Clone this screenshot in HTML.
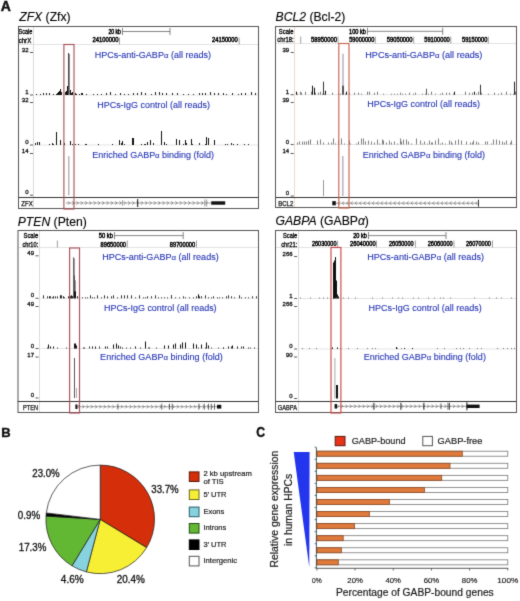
<!DOCTYPE html>
<html><head><meta charset="utf-8"><style>
html,body{margin:0;padding:0;background:#fff;width:520px;height:601px;overflow:hidden;}
svg{display:block;font-family:"Liberation Sans", sans-serif;}
</style></head><body>
<svg width="520" height="601" viewBox="0 0 520 601">
<defs><filter id="soft" x="0" y="0" width="520" height="601" filterUnits="userSpaceOnUse" color-interpolation-filters="sRGB"><feConvolveMatrix order="3" kernelMatrix="0.0144 0.0912 0.0144 0.0912 0.5776 0.0912 0.0144 0.0912 0.0144" edgeMode="duplicate"/></filter></defs>
<g filter="url(#soft)">
<rect x="0" y="0" width="520" height="601" fill="#ffffff"/>
<text x="0.8" y="11.2" font-size="14.0" fill="#111" text-anchor="start" font-weight="bold" font-style="normal" stroke="#111" stroke-width="0.45">A</text>
<rect x="18" y="26" width="241" height="183" fill="#fff" stroke="none" stroke-width="1"/>
<line x1="18.5" y1="44.5" x2="259" y2="44.5" stroke="#e2e2e2" stroke-width="1"/>
<line x1="33.5" y1="26" x2="33.5" y2="209" stroke="#dadada" stroke-width="1"/>
<text x="32.4" y="33.8" font-size="6.8" fill="#000" text-anchor="end" font-weight="normal" font-style="normal" textLength="13.8" lengthAdjust="spacingAndGlyphs" stroke="#000" stroke-width="0.3">Scale</text>
<text x="31.2" y="42.6" font-size="6.8" fill="#000" text-anchor="end" font-weight="normal" font-style="normal" textLength="12.5" lengthAdjust="spacingAndGlyphs" stroke="#000" stroke-width="0.3">chrX</text>
<text x="121.0" y="33.8" font-size="6.4" fill="#000" text-anchor="end" font-weight="normal" font-style="normal" textLength="12.6" lengthAdjust="spacingAndGlyphs" stroke="#000" stroke-width="0.45">20 kb</text>
<line x1="122.5" y1="31.5" x2="170" y2="31.5" stroke="#666" stroke-width="0.8"/>
<line x1="122.5" y1="28.0" x2="122.5" y2="35.0" stroke="#666" stroke-width="0.8"/>
<line x1="170" y1="28.0" x2="170" y2="35.0" stroke="#666" stroke-width="0.8"/>
<text x="118.5" y="42.4" font-size="6.4" fill="#000" text-anchor="end" font-weight="normal" font-style="normal" textLength="26.0" lengthAdjust="spacingAndGlyphs" stroke="#000" stroke-width="0.45">24100000</text>
<line x1="119.5" y1="37.5" x2="119.5" y2="44.5" stroke="#888" stroke-width="0.8"/>
<text x="237.8" y="42.4" font-size="6.4" fill="#000" text-anchor="end" font-weight="normal" font-style="normal" textLength="25.8" lengthAdjust="spacingAndGlyphs" stroke="#000" stroke-width="0.45">24150000</text>
<line x1="239.2" y1="37.5" x2="239.2" y2="44.5" stroke="#888" stroke-width="0.8"/>
<text x="28.5" y="52" font-size="6.0" fill="#111" text-anchor="end" font-weight="normal" font-style="normal" stroke="#111" stroke-width="0.3">32</text>
<line x1="30.0" y1="52.5" x2="33.0" y2="52.5" stroke="#444" stroke-width="0.9"/>
<text x="28.5" y="94.0" font-size="6.0" fill="#111" text-anchor="end" font-weight="normal" font-style="normal" stroke="#111" stroke-width="0.3">1</text>
<line x1="30.0" y1="95.0" x2="33.0" y2="95.0" stroke="#444" stroke-width="0.9"/>
<line x1="34.5" y1="95.0" x2="258" y2="95.0" stroke="#e4e4e4" stroke-width="1"/>
<text x="94.7" y="57.6" font-size="8.3" fill="#2434b4" text-anchor="start" font-weight="normal" font-style="normal" textLength="116.4" lengthAdjust="spacingAndGlyphs" stroke="#2434b4" stroke-width="0.1">HPCs-anti-GABP<tspan font-size="7.2">&#945;</tspan> (all reads)</text>
<rect x="56" y="94.0" width="1" height="1" fill="#111" stroke="none" stroke-width="1"/>
<rect x="57" y="93.0" width="1" height="2" fill="#111" stroke="none" stroke-width="1"/>
<rect x="58" y="92.0" width="1" height="3" fill="#111" stroke="none" stroke-width="1"/>
<rect x="59" y="91.0" width="1" height="4" fill="#111" stroke="none" stroke-width="1"/>
<rect x="60" y="89.0" width="1" height="6" fill="#111" stroke="none" stroke-width="1"/>
<rect x="61" y="92.0" width="1" height="3" fill="#111" stroke="none" stroke-width="1"/>
<rect x="66" y="91.0" width="1" height="4" fill="#111" stroke="none" stroke-width="1"/>
<rect x="67" y="86.0" width="1" height="9" fill="#111" stroke="none" stroke-width="1"/>
<rect x="68" y="83.0" width="2" height="12" fill="#111" stroke="none" stroke-width="1"/>
<rect x="68" y="53.0" width="1" height="42" fill="#4a4a4a" stroke="none" stroke-width="1"/>
<rect x="69" y="54.0" width="1" height="41" fill="#8a8a8a" stroke="none" stroke-width="1"/>
<rect x="70" y="90.0" width="1" height="5" fill="#111" stroke="none" stroke-width="1"/>
<rect x="71" y="93.0" width="1" height="2" fill="#111" stroke="none" stroke-width="1"/>
<rect x="72" y="92.0" width="1" height="3" fill="#111" stroke="none" stroke-width="1"/>
<rect x="76" y="94.0" width="1" height="1" fill="#111" stroke="none" stroke-width="1"/>
<rect x="79" y="94.0" width="1" height="1" fill="#111" stroke="none" stroke-width="1"/>
<rect x="82" y="93.0" width="1" height="2" fill="#111" stroke="none" stroke-width="1"/>
<rect x="36" y="94.0" width="1" height="1" fill="#222" stroke="none" stroke-width="1"/>
<rect x="40" y="94.0" width="1" height="1" fill="#222" stroke="none" stroke-width="1"/>
<rect x="43" y="93.0" width="1" height="2" fill="#222" stroke="none" stroke-width="1"/>
<rect x="46" y="93.0" width="1" height="2" fill="#222" stroke="none" stroke-width="1"/>
<rect x="49" y="93.0" width="1" height="2" fill="#222" stroke="none" stroke-width="1"/>
<rect x="53" y="94.0" width="1" height="1" fill="#222" stroke="none" stroke-width="1"/>
<rect x="57" y="94.0" width="1" height="1" fill="#222" stroke="none" stroke-width="1"/>
<rect x="61" y="93.0" width="1" height="2" fill="#222" stroke="none" stroke-width="1"/>
<rect x="65" y="92.0" width="1" height="3" fill="#222" stroke="none" stroke-width="1"/>
<rect x="70" y="94.0" width="1" height="1" fill="#222" stroke="none" stroke-width="1"/>
<rect x="75" y="93.0" width="1" height="2" fill="#222" stroke="none" stroke-width="1"/>
<rect x="81" y="93.0" width="1" height="2" fill="#222" stroke="none" stroke-width="1"/>
<rect x="86" y="94.0" width="1" height="1" fill="#222" stroke="none" stroke-width="1"/>
<rect x="93" y="94.0" width="1" height="1" fill="#222" stroke="none" stroke-width="1"/>
<rect x="97" y="94.0" width="1" height="1" fill="#222" stroke="none" stroke-width="1"/>
<rect x="101" y="94.0" width="1" height="1" fill="#222" stroke="none" stroke-width="1"/>
<rect x="106" y="93.0" width="1" height="2" fill="#222" stroke="none" stroke-width="1"/>
<rect x="110" y="92.0" width="1" height="3" fill="#222" stroke="none" stroke-width="1"/>
<rect x="115" y="94.0" width="1" height="1" fill="#222" stroke="none" stroke-width="1"/>
<rect x="120" y="93.0" width="1" height="2" fill="#222" stroke="none" stroke-width="1"/>
<rect x="124" y="94.0" width="1" height="1" fill="#222" stroke="none" stroke-width="1"/>
<rect x="128" y="94.0" width="1" height="1" fill="#222" stroke="none" stroke-width="1"/>
<rect x="133" y="93.0" width="1" height="2" fill="#222" stroke="none" stroke-width="1"/>
<rect x="137" y="93.0" width="1" height="2" fill="#222" stroke="none" stroke-width="1"/>
<rect x="141" y="92.0" width="1" height="3" fill="#222" stroke="none" stroke-width="1"/>
<rect x="145" y="93.0" width="1" height="2" fill="#222" stroke="none" stroke-width="1"/>
<rect x="151" y="94.0" width="1" height="1" fill="#222" stroke="none" stroke-width="1"/>
<rect x="155" y="92.0" width="1" height="3" fill="#222" stroke="none" stroke-width="1"/>
<rect x="159" y="92.0" width="1" height="3" fill="#222" stroke="none" stroke-width="1"/>
<rect x="162" y="93.0" width="1" height="2" fill="#222" stroke="none" stroke-width="1"/>
<rect x="166" y="93.0" width="1" height="2" fill="#222" stroke="none" stroke-width="1"/>
<rect x="172" y="93.0" width="1" height="2" fill="#222" stroke="none" stroke-width="1"/>
<rect x="177" y="93.0" width="1" height="2" fill="#222" stroke="none" stroke-width="1"/>
<rect x="183" y="94.0" width="1" height="1" fill="#222" stroke="none" stroke-width="1"/>
<rect x="188" y="94.0" width="1" height="1" fill="#222" stroke="none" stroke-width="1"/>
<rect x="193" y="94.0" width="1" height="1" fill="#222" stroke="none" stroke-width="1"/>
<rect x="199" y="93.0" width="1" height="2" fill="#222" stroke="none" stroke-width="1"/>
<rect x="202" y="93.0" width="1" height="2" fill="#222" stroke="none" stroke-width="1"/>
<rect x="205" y="93.0" width="1" height="2" fill="#222" stroke="none" stroke-width="1"/>
<rect x="210" y="92.0" width="1" height="3" fill="#222" stroke="none" stroke-width="1"/>
<rect x="214" y="93.0" width="1" height="2" fill="#222" stroke="none" stroke-width="1"/>
<rect x="218" y="93.0" width="1" height="2" fill="#222" stroke="none" stroke-width="1"/>
<rect x="223" y="93.0" width="1" height="2" fill="#222" stroke="none" stroke-width="1"/>
<rect x="226" y="94.0" width="1" height="1" fill="#222" stroke="none" stroke-width="1"/>
<rect x="232" y="93.0" width="1" height="2" fill="#222" stroke="none" stroke-width="1"/>
<rect x="238" y="94.0" width="1" height="1" fill="#222" stroke="none" stroke-width="1"/>
<rect x="241" y="93.0" width="1" height="2" fill="#222" stroke="none" stroke-width="1"/>
<rect x="245" y="93.0" width="1" height="2" fill="#222" stroke="none" stroke-width="1"/>
<rect x="251" y="92.0" width="1" height="3" fill="#222" stroke="none" stroke-width="1"/>
<rect x="255" y="93.0" width="1" height="2" fill="#222" stroke="none" stroke-width="1"/>
<text x="28.5" y="102" font-size="6.0" fill="#111" text-anchor="end" font-weight="normal" font-style="normal" stroke="#111" stroke-width="0.3">32</text>
<line x1="30.0" y1="102.5" x2="33.0" y2="102.5" stroke="#444" stroke-width="0.9"/>
<text x="28.5" y="144.0" font-size="6.0" fill="#111" text-anchor="end" font-weight="normal" font-style="normal" stroke="#111" stroke-width="0.3">0</text>
<line x1="30.0" y1="145.0" x2="33.0" y2="145.0" stroke="#444" stroke-width="0.9"/>
<line x1="34.5" y1="145.0" x2="258" y2="145.0" stroke="#e4e4e4" stroke-width="1"/>
<text x="97.2" y="107.6" font-size="8.3" fill="#2434b4" text-anchor="start" font-weight="normal" font-style="normal" textLength="112.7" lengthAdjust="spacingAndGlyphs" stroke="#2434b4" stroke-width="0.1">HPCs-IgG control (all reads)</text>
<rect x="37" y="142.0" width="1" height="3" fill="#111" stroke="none" stroke-width="1"/>
<rect x="39" y="142.0" width="1" height="3" fill="#111" stroke="none" stroke-width="1"/>
<rect x="49" y="144.0" width="1" height="1" fill="#111" stroke="none" stroke-width="1"/>
<rect x="56" y="132.0" width="1" height="13" fill="#111" stroke="none" stroke-width="1"/>
<rect x="60" y="140.0" width="1" height="5" fill="#111" stroke="none" stroke-width="1"/>
<rect x="64" y="143.0" width="1" height="2" fill="#111" stroke="none" stroke-width="1"/>
<rect x="70" y="141.0" width="1" height="4" fill="#111" stroke="none" stroke-width="1"/>
<rect x="78" y="144.0" width="1" height="1" fill="#111" stroke="none" stroke-width="1"/>
<rect x="85" y="144.0" width="1" height="1" fill="#111" stroke="none" stroke-width="1"/>
<rect x="98" y="144.0" width="1" height="1" fill="#111" stroke="none" stroke-width="1"/>
<rect x="112" y="144.0" width="1" height="1" fill="#111" stroke="none" stroke-width="1"/>
<rect x="119" y="140.0" width="1" height="5" fill="#111" stroke="none" stroke-width="1"/>
<rect x="122" y="141.0" width="1" height="4" fill="#111" stroke="none" stroke-width="1"/>
<rect x="132" y="138.0" width="2" height="7" fill="#111" stroke="none" stroke-width="1"/>
<rect x="141" y="144.0" width="1" height="1" fill="#111" stroke="none" stroke-width="1"/>
<rect x="145" y="144.0" width="1" height="1" fill="#111" stroke="none" stroke-width="1"/>
<rect x="147" y="142.0" width="1" height="3" fill="#111" stroke="none" stroke-width="1"/>
<rect x="150" y="140.0" width="1" height="5" fill="#111" stroke="none" stroke-width="1"/>
<rect x="161" y="131.0" width="1" height="14" fill="#111" stroke="none" stroke-width="1"/>
<rect x="164" y="142.0" width="1" height="3" fill="#111" stroke="none" stroke-width="1"/>
<rect x="166" y="144.0" width="1" height="1" fill="#111" stroke="none" stroke-width="1"/>
<rect x="176" y="139.0" width="1" height="6" fill="#111" stroke="none" stroke-width="1"/>
<rect x="179" y="140.0" width="1" height="5" fill="#111" stroke="none" stroke-width="1"/>
<rect x="185" y="140.0" width="1" height="5" fill="#111" stroke="none" stroke-width="1"/>
<rect x="191" y="139.0" width="1" height="6" fill="#111" stroke="none" stroke-width="1"/>
<rect x="206" y="137.0" width="1" height="8" fill="#111" stroke="none" stroke-width="1"/>
<rect x="208" y="138.0" width="1" height="7" fill="#111" stroke="none" stroke-width="1"/>
<rect x="214" y="140.0" width="1" height="5" fill="#111" stroke="none" stroke-width="1"/>
<rect x="225" y="144.0" width="1" height="1" fill="#111" stroke="none" stroke-width="1"/>
<rect x="233" y="144.0" width="1" height="1" fill="#111" stroke="none" stroke-width="1"/>
<rect x="237" y="144.0" width="1" height="1" fill="#111" stroke="none" stroke-width="1"/>
<rect x="244" y="144.0" width="1" height="1" fill="#111" stroke="none" stroke-width="1"/>
<rect x="183" y="144.0" width="1" height="1" fill="#222" stroke="none" stroke-width="1"/>
<rect x="244" y="144.0" width="1" height="1" fill="#222" stroke="none" stroke-width="1"/>
<rect x="72" y="144.0" width="1" height="1" fill="#222" stroke="none" stroke-width="1"/>
<rect x="144" y="144.0" width="1" height="1" fill="#222" stroke="none" stroke-width="1"/>
<rect x="205" y="144.0" width="1" height="1" fill="#222" stroke="none" stroke-width="1"/>
<rect x="199" y="143.0" width="1" height="2" fill="#222" stroke="none" stroke-width="1"/>
<rect x="121" y="143.0" width="1" height="2" fill="#222" stroke="none" stroke-width="1"/>
<rect x="52" y="143.0" width="1" height="2" fill="#222" stroke="none" stroke-width="1"/>
<rect x="124" y="144.0" width="1" height="1" fill="#222" stroke="none" stroke-width="1"/>
<rect x="231" y="143.0" width="1" height="2" fill="#222" stroke="none" stroke-width="1"/>
<rect x="227" y="144.0" width="1" height="1" fill="#222" stroke="none" stroke-width="1"/>
<rect x="192" y="144.0" width="1" height="1" fill="#222" stroke="none" stroke-width="1"/>
<rect x="186" y="143.0" width="1" height="2" fill="#222" stroke="none" stroke-width="1"/>
<rect x="248" y="144.0" width="1" height="1" fill="#222" stroke="none" stroke-width="1"/>
<rect x="53" y="144.0" width="1" height="1" fill="#222" stroke="none" stroke-width="1"/>
<rect x="86" y="144.0" width="1" height="1" fill="#222" stroke="none" stroke-width="1"/>
<rect x="37" y="143.0" width="1" height="2" fill="#222" stroke="none" stroke-width="1"/>
<rect x="75" y="144.0" width="1" height="1" fill="#222" stroke="none" stroke-width="1"/>
<rect x="35" y="143.0" width="1" height="2" fill="#222" stroke="none" stroke-width="1"/>
<rect x="153" y="143.0" width="1" height="2" fill="#222" stroke="none" stroke-width="1"/>
<text x="28.5" y="153" font-size="6.0" fill="#111" text-anchor="end" font-weight="normal" font-style="normal" stroke="#111" stroke-width="0.3">14</text>
<line x1="30.0" y1="153.5" x2="33.0" y2="153.5" stroke="#444" stroke-width="0.9"/>
<text x="28.5" y="194.2" font-size="6.0" fill="#111" text-anchor="end" font-weight="normal" font-style="normal" stroke="#111" stroke-width="0.3">0</text>
<line x1="30.0" y1="195.2" x2="33.0" y2="195.2" stroke="#444" stroke-width="0.9"/>
<text x="92.2" y="157.6" font-size="8.3" fill="#2434b4" text-anchor="start" font-weight="normal" font-style="normal" textLength="121.9" lengthAdjust="spacingAndGlyphs" stroke="#2434b4" stroke-width="0.1">Enriched GABP<tspan font-size="7.2">&#945;</tspan> binding (fold)</text>
<rect x="68" y="156.2" width="1" height="39" fill="#b4b4b4" stroke="none" stroke-width="1"/>
<rect x="69" y="156.2" width="1" height="39" fill="#dadada" stroke="none" stroke-width="1"/>
<line x1="18" y1="197.5" x2="259" y2="197.5" stroke="#333" stroke-width="1"/>
<text x="21.2" y="206" font-size="6.6" fill="#111" text-anchor="start" font-weight="normal" font-style="normal" textLength="11.6" lengthAdjust="spacingAndGlyphs" stroke="#111" stroke-width="0.25">ZFX</text>
<line x1="66" y1="203" x2="211" y2="203" stroke="#8a8a8a" stroke-width="0.8"/>
<path d="M68.0 201.3 L69.7 203 L68.0 204.7" fill="none" stroke="#707070" stroke-width="0.8"/>
<path d="M72.3 201.3 L74.0 203 L72.3 204.7" fill="none" stroke="#707070" stroke-width="0.8"/>
<path d="M76.6 201.3 L78.3 203 L76.6 204.7" fill="none" stroke="#707070" stroke-width="0.8"/>
<path d="M80.9 201.3 L82.6 203 L80.9 204.7" fill="none" stroke="#707070" stroke-width="0.8"/>
<path d="M85.2 201.3 L86.9 203 L85.2 204.7" fill="none" stroke="#707070" stroke-width="0.8"/>
<path d="M89.5 201.3 L91.2 203 L89.5 204.7" fill="none" stroke="#707070" stroke-width="0.8"/>
<path d="M93.8 201.3 L95.5 203 L93.8 204.7" fill="none" stroke="#707070" stroke-width="0.8"/>
<path d="M98.1 201.3 L99.8 203 L98.1 204.7" fill="none" stroke="#707070" stroke-width="0.8"/>
<path d="M102.4 201.3 L104.1 203 L102.4 204.7" fill="none" stroke="#707070" stroke-width="0.8"/>
<path d="M106.7 201.3 L108.4 203 L106.7 204.7" fill="none" stroke="#707070" stroke-width="0.8"/>
<path d="M111.0 201.3 L112.7 203 L111.0 204.7" fill="none" stroke="#707070" stroke-width="0.8"/>
<path d="M115.3 201.3 L117.0 203 L115.3 204.7" fill="none" stroke="#707070" stroke-width="0.8"/>
<path d="M119.6 201.3 L121.3 203 L119.6 204.7" fill="none" stroke="#707070" stroke-width="0.8"/>
<path d="M123.9 201.3 L125.6 203 L123.9 204.7" fill="none" stroke="#707070" stroke-width="0.8"/>
<path d="M128.2 201.3 L129.9 203 L128.2 204.7" fill="none" stroke="#707070" stroke-width="0.8"/>
<path d="M132.5 201.3 L134.2 203 L132.5 204.7" fill="none" stroke="#707070" stroke-width="0.8"/>
<path d="M136.8 201.3 L138.5 203 L136.8 204.7" fill="none" stroke="#707070" stroke-width="0.8"/>
<path d="M141.1 201.3 L142.8 203 L141.1 204.7" fill="none" stroke="#707070" stroke-width="0.8"/>
<path d="M145.4 201.3 L147.1 203 L145.4 204.7" fill="none" stroke="#707070" stroke-width="0.8"/>
<path d="M149.7 201.3 L151.4 203 L149.7 204.7" fill="none" stroke="#707070" stroke-width="0.8"/>
<path d="M154.0 201.3 L155.7 203 L154.0 204.7" fill="none" stroke="#707070" stroke-width="0.8"/>
<path d="M158.3 201.3 L160.0 203 L158.3 204.7" fill="none" stroke="#707070" stroke-width="0.8"/>
<path d="M162.6 201.3 L164.3 203 L162.6 204.7" fill="none" stroke="#707070" stroke-width="0.8"/>
<path d="M166.9 201.3 L168.6 203 L166.9 204.7" fill="none" stroke="#707070" stroke-width="0.8"/>
<path d="M171.2 201.3 L172.9 203 L171.2 204.7" fill="none" stroke="#707070" stroke-width="0.8"/>
<path d="M175.5 201.3 L177.2 203 L175.5 204.7" fill="none" stroke="#707070" stroke-width="0.8"/>
<path d="M179.8 201.3 L181.5 203 L179.8 204.7" fill="none" stroke="#707070" stroke-width="0.8"/>
<path d="M184.1 201.3 L185.8 203 L184.1 204.7" fill="none" stroke="#707070" stroke-width="0.8"/>
<path d="M188.4 201.3 L190.1 203 L188.4 204.7" fill="none" stroke="#707070" stroke-width="0.8"/>
<path d="M192.7 201.3 L194.4 203 L192.7 204.7" fill="none" stroke="#707070" stroke-width="0.8"/>
<path d="M197.0 201.3 L198.7 203 L197.0 204.7" fill="none" stroke="#707070" stroke-width="0.8"/>
<path d="M201.3 201.3 L203.0 203 L201.3 204.7" fill="none" stroke="#707070" stroke-width="0.8"/>
<path d="M205.6 201.3 L207.3 203 L205.6 204.7" fill="none" stroke="#707070" stroke-width="0.8"/>
<rect x="122" y="200.0" width="0.8" height="6" fill="#999" stroke="none" stroke-width="1"/>
<rect x="137.2" y="199.0" width="1" height="8" fill="#111" stroke="none" stroke-width="1"/>
<rect x="204.4" y="199.5" width="0.8" height="7" fill="#888" stroke="none" stroke-width="1"/>
<rect x="206.4" y="199.5" width="0.8" height="7" fill="#888" stroke="none" stroke-width="1"/>
<rect x="211.2" y="201.3" width="14" height="3.4" fill="#111" stroke="none" stroke-width="1"/>
<rect x="18.5" y="26.5" width="240" height="182" fill="none" stroke="#555" stroke-width="1"/>
<rect x="63.9" y="44.5" width="10.100000000000001" height="164.5" fill="none" stroke="#a8525a" stroke-width="1.15"/>
<text x="19.2" y="21" font-size="12.2" fill="#000" stroke="#000" stroke-width="0.12"><tspan font-style="italic">ZFX</tspan> (Zfx)</text>
<rect x="275" y="26" width="242" height="182" fill="#fff" stroke="none" stroke-width="1"/>
<line x1="275.5" y1="43.5" x2="517" y2="43.5" stroke="#e2e2e2" stroke-width="1"/>
<line x1="294.5" y1="26" x2="294.5" y2="208" stroke="#f2d6c8" stroke-width="1"/>
<text x="293.5" y="33.8" font-size="6.8" fill="#000" text-anchor="end" font-weight="normal" font-style="normal" textLength="14.7" lengthAdjust="spacingAndGlyphs" stroke="#000" stroke-width="0.3">Scale</text>
<text x="293.5" y="42.4" font-size="6.8" fill="#000" text-anchor="end" font-weight="normal" font-style="normal" textLength="16.2" lengthAdjust="spacingAndGlyphs" stroke="#000" stroke-width="0.3">chr18:</text>
<text x="366.0" y="33.6" font-size="6.4" fill="#000" text-anchor="end" font-weight="normal" font-style="normal" textLength="16.9" lengthAdjust="spacingAndGlyphs" stroke="#000" stroke-width="0.45">100 kb</text>
<line x1="367.5" y1="31.3" x2="442.7" y2="31.3" stroke="#666" stroke-width="0.8"/>
<line x1="367.5" y1="27.8" x2="367.5" y2="34.8" stroke="#666" stroke-width="0.8"/>
<line x1="442.7" y1="27.8" x2="442.7" y2="34.8" stroke="#666" stroke-width="0.8"/>
<text x="337" y="42.2" font-size="6.4" fill="#000" text-anchor="end" font-weight="normal" font-style="normal" textLength="26" lengthAdjust="spacingAndGlyphs" stroke="#000" stroke-width="0.45">58950000</text>
<line x1="338" y1="36.5" x2="338" y2="43.5" stroke="#888" stroke-width="0.8"/>
<text x="374.4" y="42.2" font-size="6.4" fill="#000" text-anchor="end" font-weight="normal" font-style="normal" textLength="25.2" lengthAdjust="spacingAndGlyphs" stroke="#000" stroke-width="0.45">59000000</text>
<line x1="375.3" y1="36.5" x2="375.3" y2="43.5" stroke="#888" stroke-width="0.8"/>
<text x="412.6" y="42.2" font-size="6.4" fill="#000" text-anchor="end" font-weight="normal" font-style="normal" textLength="25.9" lengthAdjust="spacingAndGlyphs" stroke="#000" stroke-width="0.45">59050000</text>
<line x1="413.7" y1="36.5" x2="413.7" y2="43.5" stroke="#888" stroke-width="0.8"/>
<text x="449.8" y="42.2" font-size="6.4" fill="#000" text-anchor="end" font-weight="normal" font-style="normal" textLength="25.6" lengthAdjust="spacingAndGlyphs" stroke="#000" stroke-width="0.45">59100000</text>
<line x1="450.8" y1="36.5" x2="450.8" y2="43.5" stroke="#888" stroke-width="0.8"/>
<text x="487.3" y="42.2" font-size="6.4" fill="#000" text-anchor="end" font-weight="normal" font-style="normal" textLength="25.3" lengthAdjust="spacingAndGlyphs" stroke="#000" stroke-width="0.45">59150000</text>
<line x1="488.3" y1="36.5" x2="488.3" y2="43.5" stroke="#888" stroke-width="0.8"/>
<line x1="300.7" y1="36.5" x2="300.7" y2="43.5" stroke="#888" stroke-width="0.8"/>
<text x="289.2" y="52" font-size="6.0" fill="#111" text-anchor="end" font-weight="normal" font-style="normal" stroke="#111" stroke-width="0.3">39</text>
<line x1="290.7" y1="52.5" x2="293.7" y2="52.5" stroke="#444" stroke-width="0.9"/>
<text x="289.2" y="93.7" font-size="6.0" fill="#111" text-anchor="end" font-weight="normal" font-style="normal" stroke="#111" stroke-width="0.3">1</text>
<line x1="290.7" y1="94.7" x2="293.7" y2="94.7" stroke="#444" stroke-width="0.9"/>
<line x1="295.5" y1="94.7" x2="516" y2="94.7" stroke="#e4e4e4" stroke-width="1"/>
<text x="365.3" y="57.5" font-size="8.3" fill="#2434b4" text-anchor="start" font-weight="normal" font-style="normal" textLength="117.1" lengthAdjust="spacingAndGlyphs" stroke="#2434b4" stroke-width="0.1">HPCs-anti-GABP<tspan font-size="7.2">&#945;</tspan> (all reads)</text>
<rect x="296" y="91.7" width="1" height="3" fill="#111" stroke="none" stroke-width="1"/>
<rect x="300" y="91.7" width="1" height="3" fill="#777" stroke="none" stroke-width="1"/>
<rect x="312" y="85.7" width="1" height="9" fill="#111" stroke="none" stroke-width="1"/>
<rect x="314" y="87.7" width="1" height="7" fill="#111" stroke="none" stroke-width="1"/>
<rect x="323" y="81.7" width="1" height="13" fill="#333" stroke="none" stroke-width="1"/>
<rect x="325" y="90.7" width="1" height="4" fill="#111" stroke="none" stroke-width="1"/>
<rect x="342" y="53.7" width="2" height="41" fill="#c4c4d4" stroke="none" stroke-width="1"/>
<rect x="342" y="85.7" width="2" height="9" fill="#555" stroke="none" stroke-width="1"/>
<rect x="346" y="91.7" width="1" height="3" fill="#111" stroke="none" stroke-width="1"/>
<rect x="426" y="88.7" width="1" height="6" fill="#555" stroke="none" stroke-width="1"/>
<rect x="454" y="91.7" width="1" height="3" fill="#111" stroke="none" stroke-width="1"/>
<rect x="474" y="91.7" width="1" height="3" fill="#111" stroke="none" stroke-width="1"/>
<rect x="480" y="84.7" width="1" height="10" fill="#333" stroke="none" stroke-width="1"/>
<rect x="514" y="81.7" width="1" height="13" fill="#222" stroke="none" stroke-width="1"/>
<rect x="297" y="93.7" width="1" height="1" fill="#777" stroke="none" stroke-width="1"/>
<rect x="301" y="92.7" width="1" height="2" fill="#777" stroke="none" stroke-width="1"/>
<rect x="305" y="91.7" width="1" height="3" fill="#777" stroke="none" stroke-width="1"/>
<rect x="311" y="91.7" width="1" height="3" fill="#777" stroke="none" stroke-width="1"/>
<rect x="315" y="92.7" width="1" height="2" fill="#777" stroke="none" stroke-width="1"/>
<rect x="318" y="92.7" width="1" height="2" fill="#777" stroke="none" stroke-width="1"/>
<rect x="320" y="91.7" width="1" height="3" fill="#777" stroke="none" stroke-width="1"/>
<rect x="322" y="93.7" width="1" height="1" fill="#777" stroke="none" stroke-width="1"/>
<rect x="324" y="93.7" width="1" height="1" fill="#777" stroke="none" stroke-width="1"/>
<rect x="332" y="92.7" width="1" height="2" fill="#777" stroke="none" stroke-width="1"/>
<rect x="338" y="92.7" width="1" height="2" fill="#777" stroke="none" stroke-width="1"/>
<rect x="340" y="93.7" width="1" height="1" fill="#777" stroke="none" stroke-width="1"/>
<rect x="345" y="93.7" width="1" height="1" fill="#777" stroke="none" stroke-width="1"/>
<rect x="349" y="92.7" width="1" height="2" fill="#777" stroke="none" stroke-width="1"/>
<rect x="354" y="92.7" width="1" height="2" fill="#777" stroke="none" stroke-width="1"/>
<rect x="358" y="92.7" width="1" height="2" fill="#777" stroke="none" stroke-width="1"/>
<rect x="361" y="93.7" width="1" height="1" fill="#777" stroke="none" stroke-width="1"/>
<rect x="367" y="91.7" width="1" height="3" fill="#777" stroke="none" stroke-width="1"/>
<rect x="369" y="91.7" width="1" height="3" fill="#777" stroke="none" stroke-width="1"/>
<rect x="374" y="92.7" width="1" height="2" fill="#777" stroke="none" stroke-width="1"/>
<rect x="377" y="91.7" width="1" height="3" fill="#777" stroke="none" stroke-width="1"/>
<rect x="383" y="93.7" width="1" height="1" fill="#777" stroke="none" stroke-width="1"/>
<rect x="391" y="93.7" width="1" height="1" fill="#777" stroke="none" stroke-width="1"/>
<rect x="394" y="93.7" width="1" height="1" fill="#777" stroke="none" stroke-width="1"/>
<rect x="397" y="93.7" width="1" height="1" fill="#777" stroke="none" stroke-width="1"/>
<rect x="400" y="92.7" width="1" height="2" fill="#777" stroke="none" stroke-width="1"/>
<rect x="402" y="93.7" width="1" height="1" fill="#777" stroke="none" stroke-width="1"/>
<rect x="405" y="93.7" width="1" height="1" fill="#777" stroke="none" stroke-width="1"/>
<rect x="409" y="92.7" width="1" height="2" fill="#777" stroke="none" stroke-width="1"/>
<rect x="413" y="93.7" width="1" height="1" fill="#777" stroke="none" stroke-width="1"/>
<rect x="415" y="92.7" width="1" height="2" fill="#777" stroke="none" stroke-width="1"/>
<rect x="422" y="93.7" width="1" height="1" fill="#777" stroke="none" stroke-width="1"/>
<rect x="425" y="93.7" width="1" height="1" fill="#777" stroke="none" stroke-width="1"/>
<rect x="428" y="93.7" width="1" height="1" fill="#777" stroke="none" stroke-width="1"/>
<rect x="431" y="91.7" width="1" height="3" fill="#777" stroke="none" stroke-width="1"/>
<rect x="435" y="93.7" width="1" height="1" fill="#777" stroke="none" stroke-width="1"/>
<rect x="440" y="93.7" width="1" height="1" fill="#777" stroke="none" stroke-width="1"/>
<rect x="442" y="92.7" width="1" height="2" fill="#777" stroke="none" stroke-width="1"/>
<rect x="446" y="92.7" width="1" height="2" fill="#777" stroke="none" stroke-width="1"/>
<rect x="449" y="92.7" width="1" height="2" fill="#777" stroke="none" stroke-width="1"/>
<rect x="453" y="93.7" width="1" height="1" fill="#777" stroke="none" stroke-width="1"/>
<rect x="465" y="91.7" width="1" height="3" fill="#777" stroke="none" stroke-width="1"/>
<rect x="469" y="92.7" width="1" height="2" fill="#777" stroke="none" stroke-width="1"/>
<rect x="472" y="92.7" width="1" height="2" fill="#777" stroke="none" stroke-width="1"/>
<rect x="476" y="93.7" width="1" height="1" fill="#777" stroke="none" stroke-width="1"/>
<rect x="478" y="91.7" width="1" height="3" fill="#777" stroke="none" stroke-width="1"/>
<rect x="481" y="92.7" width="1" height="2" fill="#777" stroke="none" stroke-width="1"/>
<rect x="488" y="93.7" width="1" height="1" fill="#777" stroke="none" stroke-width="1"/>
<rect x="494" y="92.7" width="1" height="2" fill="#777" stroke="none" stroke-width="1"/>
<rect x="498" y="93.7" width="1" height="1" fill="#777" stroke="none" stroke-width="1"/>
<rect x="501" y="92.7" width="1" height="2" fill="#777" stroke="none" stroke-width="1"/>
<rect x="506" y="91.7" width="1" height="3" fill="#777" stroke="none" stroke-width="1"/>
<rect x="510" y="93.7" width="1" height="1" fill="#777" stroke="none" stroke-width="1"/>
<rect x="513" y="93.7" width="1" height="1" fill="#777" stroke="none" stroke-width="1"/>
<rect x="515" y="91.7" width="1" height="3" fill="#777" stroke="none" stroke-width="1"/>
<text x="289.2" y="102" font-size="6.0" fill="#111" text-anchor="end" font-weight="normal" font-style="normal" stroke="#111" stroke-width="0.3">39</text>
<line x1="290.7" y1="102.5" x2="293.7" y2="102.5" stroke="#444" stroke-width="0.9"/>
<text x="289.2" y="143.5" font-size="6.0" fill="#111" text-anchor="end" font-weight="normal" font-style="normal" stroke="#111" stroke-width="0.3">0</text>
<line x1="290.7" y1="144.5" x2="293.7" y2="144.5" stroke="#444" stroke-width="0.9"/>
<line x1="295.5" y1="144.5" x2="516" y2="144.5" stroke="#e4e4e4" stroke-width="1"/>
<text x="367.2" y="106.8" font-size="8.3" fill="#2434b4" text-anchor="start" font-weight="normal" font-style="normal" textLength="112.7" lengthAdjust="spacingAndGlyphs" stroke="#2434b4" stroke-width="0.1">HPCs-IgG control (all reads)</text>
<rect x="297" y="142.5" width="1" height="2" fill="#808080" stroke="none" stroke-width="1"/>
<rect x="299" y="141.5" width="1" height="3" fill="#808080" stroke="none" stroke-width="1"/>
<rect x="302" y="141.5" width="1" height="3" fill="#808080" stroke="none" stroke-width="1"/>
<rect x="304" y="141.5" width="1" height="3" fill="#808080" stroke="none" stroke-width="1"/>
<rect x="306" y="141.5" width="1" height="3" fill="#808080" stroke="none" stroke-width="1"/>
<rect x="308" y="140.5" width="1" height="4" fill="#808080" stroke="none" stroke-width="1"/>
<rect x="310" y="139.5" width="1" height="5" fill="#808080" stroke="none" stroke-width="1"/>
<rect x="317" y="140.5" width="1" height="4" fill="#808080" stroke="none" stroke-width="1"/>
<rect x="320" y="139.5" width="1" height="5" fill="#808080" stroke="none" stroke-width="1"/>
<rect x="323" y="142.5" width="1" height="2" fill="#808080" stroke="none" stroke-width="1"/>
<rect x="328" y="142.5" width="1" height="2" fill="#808080" stroke="none" stroke-width="1"/>
<rect x="331" y="142.5" width="1" height="2" fill="#808080" stroke="none" stroke-width="1"/>
<rect x="333" y="138.5" width="1" height="6" fill="#808080" stroke="none" stroke-width="1"/>
<rect x="335" y="143.5" width="1" height="1" fill="#808080" stroke="none" stroke-width="1"/>
<rect x="338" y="140.5" width="1" height="4" fill="#808080" stroke="none" stroke-width="1"/>
<rect x="341" y="138.5" width="1" height="6" fill="#808080" stroke="none" stroke-width="1"/>
<rect x="344" y="143.5" width="1" height="1" fill="#808080" stroke="none" stroke-width="1"/>
<rect x="349" y="140.5" width="1" height="4" fill="#808080" stroke="none" stroke-width="1"/>
<rect x="350" y="143.5" width="1" height="1" fill="#808080" stroke="none" stroke-width="1"/>
<rect x="356" y="143.5" width="1" height="1" fill="#808080" stroke="none" stroke-width="1"/>
<rect x="358" y="141.5" width="1" height="3" fill="#808080" stroke="none" stroke-width="1"/>
<rect x="361" y="138.5" width="1" height="6" fill="#808080" stroke="none" stroke-width="1"/>
<rect x="363" y="138.5" width="1" height="6" fill="#808080" stroke="none" stroke-width="1"/>
<rect x="365" y="141.5" width="1" height="3" fill="#808080" stroke="none" stroke-width="1"/>
<rect x="368" y="140.5" width="1" height="4" fill="#808080" stroke="none" stroke-width="1"/>
<rect x="371" y="141.5" width="1" height="3" fill="#808080" stroke="none" stroke-width="1"/>
<rect x="374" y="142.5" width="1" height="2" fill="#808080" stroke="none" stroke-width="1"/>
<rect x="377" y="139.5" width="1" height="5" fill="#808080" stroke="none" stroke-width="1"/>
<rect x="379" y="143.5" width="1" height="1" fill="#808080" stroke="none" stroke-width="1"/>
<rect x="382" y="139.5" width="1" height="5" fill="#808080" stroke="none" stroke-width="1"/>
<rect x="383" y="140.5" width="1" height="4" fill="#808080" stroke="none" stroke-width="1"/>
<rect x="386" y="142.5" width="1" height="2" fill="#808080" stroke="none" stroke-width="1"/>
<rect x="389" y="140.5" width="1" height="4" fill="#808080" stroke="none" stroke-width="1"/>
<rect x="391" y="142.5" width="1" height="2" fill="#808080" stroke="none" stroke-width="1"/>
<rect x="394" y="141.5" width="1" height="3" fill="#808080" stroke="none" stroke-width="1"/>
<rect x="397" y="143.5" width="1" height="1" fill="#808080" stroke="none" stroke-width="1"/>
<rect x="400" y="138.5" width="1" height="6" fill="#808080" stroke="none" stroke-width="1"/>
<rect x="401" y="141.5" width="1" height="3" fill="#808080" stroke="none" stroke-width="1"/>
<rect x="403" y="139.5" width="1" height="5" fill="#808080" stroke="none" stroke-width="1"/>
<rect x="406" y="139.5" width="1" height="5" fill="#808080" stroke="none" stroke-width="1"/>
<rect x="408" y="141.5" width="1" height="3" fill="#808080" stroke="none" stroke-width="1"/>
<rect x="411" y="143.5" width="1" height="1" fill="#808080" stroke="none" stroke-width="1"/>
<rect x="416" y="138.5" width="1" height="6" fill="#808080" stroke="none" stroke-width="1"/>
<rect x="420" y="140.5" width="1" height="4" fill="#808080" stroke="none" stroke-width="1"/>
<rect x="422" y="143.5" width="1" height="1" fill="#808080" stroke="none" stroke-width="1"/>
<rect x="424" y="141.5" width="1" height="3" fill="#808080" stroke="none" stroke-width="1"/>
<rect x="427" y="143.5" width="1" height="1" fill="#808080" stroke="none" stroke-width="1"/>
<rect x="429" y="140.5" width="1" height="4" fill="#808080" stroke="none" stroke-width="1"/>
<rect x="431" y="142.5" width="1" height="2" fill="#808080" stroke="none" stroke-width="1"/>
<rect x="432" y="142.5" width="1" height="2" fill="#808080" stroke="none" stroke-width="1"/>
<rect x="435" y="140.5" width="1" height="4" fill="#808080" stroke="none" stroke-width="1"/>
<rect x="438" y="138.5" width="1" height="6" fill="#808080" stroke="none" stroke-width="1"/>
<rect x="440" y="143.5" width="1" height="1" fill="#808080" stroke="none" stroke-width="1"/>
<rect x="442" y="142.5" width="1" height="2" fill="#808080" stroke="none" stroke-width="1"/>
<rect x="445" y="143.5" width="1" height="1" fill="#808080" stroke="none" stroke-width="1"/>
<rect x="449" y="140.5" width="1" height="4" fill="#808080" stroke="none" stroke-width="1"/>
<rect x="451" y="141.5" width="1" height="3" fill="#808080" stroke="none" stroke-width="1"/>
<rect x="452" y="143.5" width="1" height="1" fill="#808080" stroke="none" stroke-width="1"/>
<rect x="455" y="140.5" width="1" height="4" fill="#808080" stroke="none" stroke-width="1"/>
<rect x="458" y="139.5" width="1" height="5" fill="#808080" stroke="none" stroke-width="1"/>
<rect x="461" y="140.5" width="1" height="4" fill="#808080" stroke="none" stroke-width="1"/>
<rect x="466" y="141.5" width="1" height="3" fill="#808080" stroke="none" stroke-width="1"/>
<rect x="470" y="142.5" width="1" height="2" fill="#808080" stroke="none" stroke-width="1"/>
<rect x="472" y="142.5" width="1" height="2" fill="#808080" stroke="none" stroke-width="1"/>
<rect x="473" y="140.5" width="1" height="4" fill="#808080" stroke="none" stroke-width="1"/>
<rect x="476" y="141.5" width="1" height="3" fill="#808080" stroke="none" stroke-width="1"/>
<rect x="478" y="142.5" width="1" height="2" fill="#808080" stroke="none" stroke-width="1"/>
<rect x="485" y="141.5" width="1" height="3" fill="#808080" stroke="none" stroke-width="1"/>
<rect x="487" y="141.5" width="1" height="3" fill="#808080" stroke="none" stroke-width="1"/>
<rect x="491" y="143.5" width="1" height="1" fill="#808080" stroke="none" stroke-width="1"/>
<rect x="493" y="139.5" width="1" height="5" fill="#808080" stroke="none" stroke-width="1"/>
<rect x="496" y="139.5" width="1" height="5" fill="#808080" stroke="none" stroke-width="1"/>
<rect x="499" y="140.5" width="1" height="4" fill="#808080" stroke="none" stroke-width="1"/>
<rect x="502" y="141.5" width="1" height="3" fill="#808080" stroke="none" stroke-width="1"/>
<rect x="504" y="142.5" width="1" height="2" fill="#808080" stroke="none" stroke-width="1"/>
<rect x="506" y="140.5" width="1" height="4" fill="#808080" stroke="none" stroke-width="1"/>
<rect x="510" y="142.5" width="1" height="2" fill="#808080" stroke="none" stroke-width="1"/>
<rect x="511" y="140.5" width="1" height="4" fill="#808080" stroke="none" stroke-width="1"/>
<text x="289.2" y="153" font-size="6.0" fill="#111" text-anchor="end" font-weight="normal" font-style="normal" stroke="#111" stroke-width="0.3">14</text>
<line x1="290.7" y1="153.5" x2="293.7" y2="153.5" stroke="#444" stroke-width="0.9"/>
<text x="289.2" y="195.0" font-size="6.0" fill="#111" text-anchor="end" font-weight="normal" font-style="normal" stroke="#111" stroke-width="0.3">0</text>
<line x1="290.7" y1="196.0" x2="293.7" y2="196.0" stroke="#444" stroke-width="0.9"/>
<text x="362.7" y="157.5" font-size="8.3" fill="#2434b4" text-anchor="start" font-weight="normal" font-style="normal" textLength="122.4" lengthAdjust="spacingAndGlyphs" stroke="#2434b4" stroke-width="0.1">Enriched GABP<tspan font-size="7.2">&#945;</tspan> binding (fold)</text>
<rect x="342" y="156.0" width="2" height="40" fill="#d4d4e0" stroke="none" stroke-width="1"/>
<rect x="342" y="156.0" width="1" height="40" fill="#b8b8c8" stroke="none" stroke-width="1"/>
<rect x="323" y="180.0" width="1" height="16" fill="#999" stroke="none" stroke-width="1"/>
<line x1="275" y1="197.5" x2="517" y2="197.5" stroke="#333" stroke-width="1"/>
<text x="278.3" y="206" font-size="6.6" fill="#111" text-anchor="start" font-weight="normal" font-style="normal" textLength="15.0" lengthAdjust="spacingAndGlyphs" stroke="#111" stroke-width="0.25">BCL2</text>
<line x1="336" y1="203.2" x2="478.4" y2="203.2" stroke="#8a8a8a" stroke-width="0.8"/>
<path d="M339.7 201.5 L338.0 203.2 L339.7 204.89999999999998" fill="none" stroke="#707070" stroke-width="0.8"/>
<path d="M344.0 201.5 L342.3 203.2 L344.0 204.89999999999998" fill="none" stroke="#707070" stroke-width="0.8"/>
<path d="M348.3 201.5 L346.6 203.2 L348.3 204.89999999999998" fill="none" stroke="#707070" stroke-width="0.8"/>
<path d="M352.6 201.5 L350.9 203.2 L352.6 204.89999999999998" fill="none" stroke="#707070" stroke-width="0.8"/>
<path d="M356.9 201.5 L355.2 203.2 L356.9 204.89999999999998" fill="none" stroke="#707070" stroke-width="0.8"/>
<path d="M361.2 201.5 L359.5 203.2 L361.2 204.89999999999998" fill="none" stroke="#707070" stroke-width="0.8"/>
<path d="M365.5 201.5 L363.8 203.2 L365.5 204.89999999999998" fill="none" stroke="#707070" stroke-width="0.8"/>
<path d="M369.8 201.5 L368.1 203.2 L369.8 204.89999999999998" fill="none" stroke="#707070" stroke-width="0.8"/>
<path d="M374.1 201.5 L372.4 203.2 L374.1 204.89999999999998" fill="none" stroke="#707070" stroke-width="0.8"/>
<path d="M378.4 201.5 L376.7 203.2 L378.4 204.89999999999998" fill="none" stroke="#707070" stroke-width="0.8"/>
<path d="M382.7 201.5 L381.0 203.2 L382.7 204.89999999999998" fill="none" stroke="#707070" stroke-width="0.8"/>
<path d="M387.0 201.5 L385.3 203.2 L387.0 204.89999999999998" fill="none" stroke="#707070" stroke-width="0.8"/>
<path d="M391.3 201.5 L389.6 203.2 L391.3 204.89999999999998" fill="none" stroke="#707070" stroke-width="0.8"/>
<path d="M395.6 201.5 L393.9 203.2 L395.6 204.89999999999998" fill="none" stroke="#707070" stroke-width="0.8"/>
<path d="M399.9 201.5 L398.2 203.2 L399.9 204.89999999999998" fill="none" stroke="#707070" stroke-width="0.8"/>
<path d="M404.2 201.5 L402.5 203.2 L404.2 204.89999999999998" fill="none" stroke="#707070" stroke-width="0.8"/>
<path d="M408.5 201.5 L406.8 203.2 L408.5 204.89999999999998" fill="none" stroke="#707070" stroke-width="0.8"/>
<path d="M412.8 201.5 L411.1 203.2 L412.8 204.89999999999998" fill="none" stroke="#707070" stroke-width="0.8"/>
<path d="M417.1 201.5 L415.4 203.2 L417.1 204.89999999999998" fill="none" stroke="#707070" stroke-width="0.8"/>
<path d="M421.4 201.5 L419.7 203.2 L421.4 204.89999999999998" fill="none" stroke="#707070" stroke-width="0.8"/>
<path d="M425.7 201.5 L424.0 203.2 L425.7 204.89999999999998" fill="none" stroke="#707070" stroke-width="0.8"/>
<path d="M430.0 201.5 L428.3 203.2 L430.0 204.89999999999998" fill="none" stroke="#707070" stroke-width="0.8"/>
<path d="M434.3 201.5 L432.6 203.2 L434.3 204.89999999999998" fill="none" stroke="#707070" stroke-width="0.8"/>
<path d="M438.6 201.5 L436.9 203.2 L438.6 204.89999999999998" fill="none" stroke="#707070" stroke-width="0.8"/>
<path d="M442.9 201.5 L441.2 203.2 L442.9 204.89999999999998" fill="none" stroke="#707070" stroke-width="0.8"/>
<path d="M447.2 201.5 L445.5 203.2 L447.2 204.89999999999998" fill="none" stroke="#707070" stroke-width="0.8"/>
<path d="M451.5 201.5 L449.8 203.2 L451.5 204.89999999999998" fill="none" stroke="#707070" stroke-width="0.8"/>
<path d="M455.8 201.5 L454.1 203.2 L455.8 204.89999999999998" fill="none" stroke="#707070" stroke-width="0.8"/>
<path d="M460.1 201.5 L458.4 203.2 L460.1 204.89999999999998" fill="none" stroke="#707070" stroke-width="0.8"/>
<path d="M464.4 201.5 L462.7 203.2 L464.4 204.89999999999998" fill="none" stroke="#707070" stroke-width="0.8"/>
<path d="M468.7 201.5 L467.0 203.2 L468.7 204.89999999999998" fill="none" stroke="#707070" stroke-width="0.8"/>
<path d="M473.0 201.5 L471.3 203.2 L473.0 204.89999999999998" fill="none" stroke="#707070" stroke-width="0.8"/>
<path d="M477.3 201.5 L475.6 203.2 L477.3 204.89999999999998" fill="none" stroke="#707070" stroke-width="0.8"/>
<rect x="332.3" y="201.1" width="3.5" height="4.2" fill="#111" stroke="none" stroke-width="1"/>
<rect x="478" y="199.7" width="0.9" height="7" fill="#222" stroke="none" stroke-width="1"/>
<rect x="275.5" y="26.5" width="241" height="181" fill="none" stroke="#555" stroke-width="1"/>
<rect x="338.8" y="43.5" width="10.199999999999989" height="164.5" fill="none" stroke="#c86450" stroke-width="1.15"/>
<text x="275.5" y="21" font-size="12.2" fill="#000" stroke="#000" stroke-width="0.12"><tspan font-style="italic">BCL2</tspan> (Bcl-2)</text>
<rect x="17.5" y="230" width="241.5" height="183" fill="#fff" stroke="none" stroke-width="1"/>
<line x1="18.0" y1="247.5" x2="259" y2="247.5" stroke="#e2e2e2" stroke-width="1"/>
<line x1="39.5" y1="230" x2="39.5" y2="413" stroke="#dadada" stroke-width="1"/>
<text x="38.2" y="237.8" font-size="6.8" fill="#000" text-anchor="end" font-weight="normal" font-style="normal" textLength="14.7" lengthAdjust="spacingAndGlyphs" stroke="#000" stroke-width="0.3">Scale</text>
<text x="38.2" y="247.3" font-size="6.8" fill="#000" text-anchor="end" font-weight="normal" font-style="normal" textLength="15.7" lengthAdjust="spacingAndGlyphs" stroke="#000" stroke-width="0.3">chr10:</text>
<text x="113.0" y="237.9" font-size="6.4" fill="#000" text-anchor="end" font-weight="normal" font-style="normal" textLength="14.2" lengthAdjust="spacingAndGlyphs" stroke="#000" stroke-width="0.45">50 kb</text>
<line x1="114.5" y1="235.6" x2="183.2" y2="235.6" stroke="#666" stroke-width="0.8"/>
<line x1="114.5" y1="232.1" x2="114.5" y2="239.1" stroke="#666" stroke-width="0.8"/>
<line x1="183.2" y1="232.1" x2="183.2" y2="239.1" stroke="#666" stroke-width="0.8"/>
<text x="126" y="246.8" font-size="6.4" fill="#000" text-anchor="end" font-weight="normal" font-style="normal" textLength="25.4" lengthAdjust="spacingAndGlyphs" stroke="#000" stroke-width="0.45">89650000</text>
<line x1="127.3" y1="240.5" x2="127.3" y2="247.5" stroke="#888" stroke-width="0.8"/>
<text x="195.2" y="246.8" font-size="6.4" fill="#000" text-anchor="end" font-weight="normal" font-style="normal" textLength="25.4" lengthAdjust="spacingAndGlyphs" stroke="#000" stroke-width="0.45">89700000</text>
<line x1="196.5" y1="240.5" x2="196.5" y2="247.5" stroke="#888" stroke-width="0.8"/>
<line x1="57.4" y1="240.5" x2="57.4" y2="247.5" stroke="#888" stroke-width="0.8"/>
<text x="34" y="255.3" font-size="6.0" fill="#111" text-anchor="end" font-weight="normal" font-style="normal" stroke="#111" stroke-width="0.3">49</text>
<line x1="35.5" y1="255.8" x2="38.5" y2="255.8" stroke="#444" stroke-width="0.9"/>
<text x="34" y="297.3" font-size="6.0" fill="#111" text-anchor="end" font-weight="normal" font-style="normal" stroke="#111" stroke-width="0.3">0</text>
<line x1="35.5" y1="298.3" x2="38.5" y2="298.3" stroke="#444" stroke-width="0.9"/>
<line x1="40.5" y1="298.3" x2="258" y2="298.3" stroke="#e4e4e4" stroke-width="1"/>
<text x="102.2" y="260.1" font-size="8.3" fill="#2434b4" text-anchor="start" font-weight="normal" font-style="normal" textLength="116.5" lengthAdjust="spacingAndGlyphs" stroke="#2434b4" stroke-width="0.1">HPCs-anti-GABP<tspan font-size="7.2">&#945;</tspan> (all reads)</text>
<rect x="70" y="296.3" width="1" height="2" fill="#111" stroke="none" stroke-width="1"/>
<rect x="71" y="295.3" width="1" height="3" fill="#111" stroke="none" stroke-width="1"/>
<rect x="72" y="296.3" width="1" height="2" fill="#111" stroke="none" stroke-width="1"/>
<rect x="73" y="257.3" width="1" height="41" fill="#666" stroke="none" stroke-width="1"/>
<rect x="74" y="258.3" width="1" height="40" fill="#999" stroke="none" stroke-width="1"/>
<rect x="74" y="275.3" width="1" height="23" fill="#555" stroke="none" stroke-width="1"/>
<rect x="75" y="280.3" width="1" height="18" fill="#999" stroke="none" stroke-width="1"/>
<rect x="74" y="291.3" width="2" height="7" fill="#111" stroke="none" stroke-width="1"/>
<rect x="77" y="296.3" width="1" height="2" fill="#111" stroke="none" stroke-width="1"/>
<rect x="171" y="295.3" width="1" height="3" fill="#111" stroke="none" stroke-width="1"/>
<rect x="198" y="294.3" width="1" height="4" fill="#111" stroke="none" stroke-width="1"/>
<rect x="49" y="296.3" width="1" height="2" fill="#111" stroke="none" stroke-width="1"/>
<rect x="53" y="296.3" width="1" height="2" fill="#111" stroke="none" stroke-width="1"/>
<rect x="60" y="295.3" width="1" height="3" fill="#111" stroke="none" stroke-width="1"/>
<rect x="63" y="296.3" width="1" height="2" fill="#111" stroke="none" stroke-width="1"/>
<rect x="43" y="295.3" width="1" height="3" fill="#333" stroke="none" stroke-width="1"/>
<rect x="47" y="296.3" width="1" height="2" fill="#333" stroke="none" stroke-width="1"/>
<rect x="50" y="296.3" width="1" height="2" fill="#333" stroke="none" stroke-width="1"/>
<rect x="52" y="297.3" width="1" height="1" fill="#333" stroke="none" stroke-width="1"/>
<rect x="55" y="296.3" width="1" height="2" fill="#333" stroke="none" stroke-width="1"/>
<rect x="57" y="296.3" width="1" height="2" fill="#333" stroke="none" stroke-width="1"/>
<rect x="61" y="295.3" width="1" height="3" fill="#333" stroke="none" stroke-width="1"/>
<rect x="64" y="297.3" width="1" height="1" fill="#333" stroke="none" stroke-width="1"/>
<rect x="68" y="296.3" width="1" height="2" fill="#333" stroke="none" stroke-width="1"/>
<rect x="71" y="297.3" width="1" height="1" fill="#333" stroke="none" stroke-width="1"/>
<rect x="79" y="295.3" width="1" height="3" fill="#333" stroke="none" stroke-width="1"/>
<rect x="82" y="297.3" width="1" height="1" fill="#333" stroke="none" stroke-width="1"/>
<rect x="85" y="297.3" width="1" height="1" fill="#333" stroke="none" stroke-width="1"/>
<rect x="87" y="297.3" width="1" height="1" fill="#333" stroke="none" stroke-width="1"/>
<rect x="90" y="295.3" width="1" height="3" fill="#333" stroke="none" stroke-width="1"/>
<rect x="92" y="297.3" width="1" height="1" fill="#333" stroke="none" stroke-width="1"/>
<rect x="94" y="297.3" width="1" height="1" fill="#333" stroke="none" stroke-width="1"/>
<rect x="97" y="295.3" width="1" height="3" fill="#333" stroke="none" stroke-width="1"/>
<rect x="101" y="297.3" width="1" height="1" fill="#333" stroke="none" stroke-width="1"/>
<rect x="104" y="295.3" width="1" height="3" fill="#333" stroke="none" stroke-width="1"/>
<rect x="107" y="296.3" width="1" height="2" fill="#333" stroke="none" stroke-width="1"/>
<rect x="111" y="296.3" width="1" height="2" fill="#333" stroke="none" stroke-width="1"/>
<rect x="113" y="295.3" width="1" height="3" fill="#333" stroke="none" stroke-width="1"/>
<rect x="117" y="297.3" width="1" height="1" fill="#333" stroke="none" stroke-width="1"/>
<rect x="121" y="295.3" width="1" height="3" fill="#333" stroke="none" stroke-width="1"/>
<rect x="124" y="295.3" width="1" height="3" fill="#333" stroke="none" stroke-width="1"/>
<rect x="127" y="295.3" width="1" height="3" fill="#333" stroke="none" stroke-width="1"/>
<rect x="131" y="295.3" width="1" height="3" fill="#333" stroke="none" stroke-width="1"/>
<rect x="135" y="297.3" width="1" height="1" fill="#333" stroke="none" stroke-width="1"/>
<rect x="139" y="295.3" width="1" height="3" fill="#333" stroke="none" stroke-width="1"/>
<rect x="143" y="297.3" width="1" height="1" fill="#333" stroke="none" stroke-width="1"/>
<rect x="145" y="297.3" width="1" height="1" fill="#333" stroke="none" stroke-width="1"/>
<rect x="147" y="296.3" width="1" height="2" fill="#333" stroke="none" stroke-width="1"/>
<rect x="151" y="296.3" width="1" height="2" fill="#333" stroke="none" stroke-width="1"/>
<rect x="155" y="295.3" width="1" height="3" fill="#333" stroke="none" stroke-width="1"/>
<rect x="158" y="297.3" width="1" height="1" fill="#333" stroke="none" stroke-width="1"/>
<rect x="161" y="297.3" width="1" height="1" fill="#333" stroke="none" stroke-width="1"/>
<rect x="164" y="297.3" width="1" height="1" fill="#333" stroke="none" stroke-width="1"/>
<rect x="167" y="297.3" width="1" height="1" fill="#333" stroke="none" stroke-width="1"/>
<rect x="171" y="295.3" width="1" height="3" fill="#333" stroke="none" stroke-width="1"/>
<rect x="175" y="297.3" width="1" height="1" fill="#333" stroke="none" stroke-width="1"/>
<rect x="179" y="297.3" width="1" height="1" fill="#333" stroke="none" stroke-width="1"/>
<rect x="183" y="296.3" width="1" height="2" fill="#333" stroke="none" stroke-width="1"/>
<rect x="185" y="297.3" width="1" height="1" fill="#333" stroke="none" stroke-width="1"/>
<rect x="189" y="297.3" width="1" height="1" fill="#333" stroke="none" stroke-width="1"/>
<rect x="193" y="297.3" width="1" height="1" fill="#333" stroke="none" stroke-width="1"/>
<rect x="196" y="296.3" width="1" height="2" fill="#333" stroke="none" stroke-width="1"/>
<rect x="199" y="296.3" width="1" height="2" fill="#333" stroke="none" stroke-width="1"/>
<rect x="201" y="296.3" width="1" height="2" fill="#333" stroke="none" stroke-width="1"/>
<rect x="205" y="295.3" width="1" height="3" fill="#333" stroke="none" stroke-width="1"/>
<rect x="208" y="297.3" width="1" height="1" fill="#333" stroke="none" stroke-width="1"/>
<rect x="211" y="297.3" width="1" height="1" fill="#333" stroke="none" stroke-width="1"/>
<rect x="213" y="296.3" width="1" height="2" fill="#333" stroke="none" stroke-width="1"/>
<rect x="217" y="297.3" width="1" height="1" fill="#333" stroke="none" stroke-width="1"/>
<rect x="219" y="297.3" width="1" height="1" fill="#333" stroke="none" stroke-width="1"/>
<rect x="222" y="297.3" width="1" height="1" fill="#333" stroke="none" stroke-width="1"/>
<rect x="226" y="296.3" width="1" height="2" fill="#333" stroke="none" stroke-width="1"/>
<rect x="228" y="295.3" width="1" height="3" fill="#333" stroke="none" stroke-width="1"/>
<rect x="231" y="296.3" width="1" height="2" fill="#333" stroke="none" stroke-width="1"/>
<rect x="234" y="297.3" width="1" height="1" fill="#333" stroke="none" stroke-width="1"/>
<rect x="239" y="295.3" width="1" height="3" fill="#333" stroke="none" stroke-width="1"/>
<rect x="241" y="297.3" width="1" height="1" fill="#333" stroke="none" stroke-width="1"/>
<rect x="245" y="297.3" width="1" height="1" fill="#333" stroke="none" stroke-width="1"/>
<rect x="248" y="297.3" width="1" height="1" fill="#333" stroke="none" stroke-width="1"/>
<rect x="252" y="296.3" width="1" height="2" fill="#333" stroke="none" stroke-width="1"/>
<rect x="256" y="296.3" width="1" height="2" fill="#333" stroke="none" stroke-width="1"/>
<text x="34" y="306" font-size="6.0" fill="#111" text-anchor="end" font-weight="normal" font-style="normal" stroke="#111" stroke-width="0.3">49</text>
<line x1="35.5" y1="306.5" x2="38.5" y2="306.5" stroke="#444" stroke-width="0.9"/>
<text x="34" y="347.5" font-size="6.0" fill="#111" text-anchor="end" font-weight="normal" font-style="normal" stroke="#111" stroke-width="0.3">0</text>
<line x1="35.5" y1="348.5" x2="38.5" y2="348.5" stroke="#444" stroke-width="0.9"/>
<line x1="40.5" y1="348.5" x2="258" y2="348.5" stroke="#e4e4e4" stroke-width="1"/>
<text x="104.10000000000001" y="311" font-size="8.3" fill="#2434b4" text-anchor="start" font-weight="normal" font-style="normal" textLength="112.5" lengthAdjust="spacingAndGlyphs" stroke="#2434b4" stroke-width="0.1">HPCs-IgG control (all reads)</text>
<rect x="48" y="344.5" width="1" height="4" fill="#111" stroke="none" stroke-width="1"/>
<rect x="50" y="346.5" width="1" height="2" fill="#111" stroke="none" stroke-width="1"/>
<rect x="53" y="346.5" width="1" height="2" fill="#111" stroke="none" stroke-width="1"/>
<rect x="74" y="343.5" width="2" height="5" fill="#111" stroke="none" stroke-width="1"/>
<rect x="76" y="345.5" width="1" height="3" fill="#111" stroke="none" stroke-width="1"/>
<rect x="84" y="347.5" width="1" height="1" fill="#111" stroke="none" stroke-width="1"/>
<rect x="92" y="346.5" width="1" height="2" fill="#111" stroke="none" stroke-width="1"/>
<rect x="95" y="346.5" width="1" height="2" fill="#111" stroke="none" stroke-width="1"/>
<rect x="105" y="346.5" width="1" height="2" fill="#111" stroke="none" stroke-width="1"/>
<rect x="113" y="344.5" width="1" height="4" fill="#111" stroke="none" stroke-width="1"/>
<rect x="116" y="343.5" width="1" height="5" fill="#111" stroke="none" stroke-width="1"/>
<rect x="118" y="345.5" width="1" height="3" fill="#111" stroke="none" stroke-width="1"/>
<rect x="122" y="347.5" width="1" height="1" fill="#111" stroke="none" stroke-width="1"/>
<rect x="135" y="346.5" width="1" height="2" fill="#111" stroke="none" stroke-width="1"/>
<rect x="140" y="347.5" width="1" height="1" fill="#111" stroke="none" stroke-width="1"/>
<rect x="145" y="341.5" width="1" height="7" fill="#111" stroke="none" stroke-width="1"/>
<rect x="149" y="347.5" width="1" height="1" fill="#111" stroke="none" stroke-width="1"/>
<rect x="164" y="345.5" width="1" height="3" fill="#111" stroke="none" stroke-width="1"/>
<rect x="168" y="345.5" width="1" height="3" fill="#111" stroke="none" stroke-width="1"/>
<rect x="173" y="344.5" width="1" height="4" fill="#111" stroke="none" stroke-width="1"/>
<rect x="175" y="343.5" width="1" height="5" fill="#111" stroke="none" stroke-width="1"/>
<rect x="180" y="344.5" width="1" height="4" fill="#111" stroke="none" stroke-width="1"/>
<rect x="182" y="342.5" width="1" height="6" fill="#111" stroke="none" stroke-width="1"/>
<rect x="185" y="342.5" width="1" height="6" fill="#111" stroke="none" stroke-width="1"/>
<rect x="193" y="343.5" width="1" height="5" fill="#111" stroke="none" stroke-width="1"/>
<rect x="196" y="344.5" width="1" height="4" fill="#111" stroke="none" stroke-width="1"/>
<rect x="201" y="344.5" width="1" height="4" fill="#111" stroke="none" stroke-width="1"/>
<rect x="206" y="342.5" width="1" height="6" fill="#111" stroke="none" stroke-width="1"/>
<rect x="208" y="345.5" width="1" height="3" fill="#111" stroke="none" stroke-width="1"/>
<rect x="223" y="347.5" width="1" height="1" fill="#111" stroke="none" stroke-width="1"/>
<rect x="228" y="346.5" width="1" height="2" fill="#111" stroke="none" stroke-width="1"/>
<rect x="232" y="345.5" width="1" height="3" fill="#111" stroke="none" stroke-width="1"/>
<rect x="237" y="346.5" width="1" height="2" fill="#111" stroke="none" stroke-width="1"/>
<rect x="243" y="346.5" width="1" height="2" fill="#111" stroke="none" stroke-width="1"/>
<rect x="248" y="347.5" width="1" height="1" fill="#111" stroke="none" stroke-width="1"/>
<rect x="254" y="347.5" width="1" height="1" fill="#111" stroke="none" stroke-width="1"/>
<rect x="47" y="347.5" width="1" height="1" fill="#333" stroke="none" stroke-width="1"/>
<rect x="57" y="347.5" width="1" height="1" fill="#333" stroke="none" stroke-width="1"/>
<rect x="66" y="347.5" width="1" height="1" fill="#333" stroke="none" stroke-width="1"/>
<rect x="74" y="347.5" width="1" height="1" fill="#333" stroke="none" stroke-width="1"/>
<rect x="83" y="347.5" width="1" height="1" fill="#333" stroke="none" stroke-width="1"/>
<rect x="89" y="346.5" width="1" height="2" fill="#333" stroke="none" stroke-width="1"/>
<rect x="95" y="347.5" width="1" height="1" fill="#333" stroke="none" stroke-width="1"/>
<rect x="99" y="346.5" width="1" height="2" fill="#333" stroke="none" stroke-width="1"/>
<rect x="107" y="346.5" width="1" height="2" fill="#333" stroke="none" stroke-width="1"/>
<rect x="113" y="347.5" width="1" height="1" fill="#333" stroke="none" stroke-width="1"/>
<rect x="120" y="346.5" width="1" height="2" fill="#333" stroke="none" stroke-width="1"/>
<rect x="126" y="347.5" width="1" height="1" fill="#333" stroke="none" stroke-width="1"/>
<rect x="130" y="347.5" width="1" height="1" fill="#333" stroke="none" stroke-width="1"/>
<rect x="148" y="347.5" width="1" height="1" fill="#333" stroke="none" stroke-width="1"/>
<rect x="156" y="347.5" width="1" height="1" fill="#333" stroke="none" stroke-width="1"/>
<rect x="175" y="346.5" width="1" height="2" fill="#333" stroke="none" stroke-width="1"/>
<rect x="198" y="347.5" width="1" height="1" fill="#333" stroke="none" stroke-width="1"/>
<rect x="205" y="347.5" width="1" height="1" fill="#333" stroke="none" stroke-width="1"/>
<rect x="211" y="347.5" width="1" height="1" fill="#333" stroke="none" stroke-width="1"/>
<rect x="218" y="347.5" width="1" height="1" fill="#333" stroke="none" stroke-width="1"/>
<rect x="223" y="347.5" width="1" height="1" fill="#333" stroke="none" stroke-width="1"/>
<rect x="231" y="346.5" width="1" height="2" fill="#333" stroke="none" stroke-width="1"/>
<rect x="241" y="346.5" width="1" height="2" fill="#333" stroke="none" stroke-width="1"/>
<rect x="250" y="347.5" width="1" height="1" fill="#333" stroke="none" stroke-width="1"/>
<text x="34" y="356.5" font-size="6.0" fill="#111" text-anchor="end" font-weight="normal" font-style="normal" stroke="#111" stroke-width="0.3">17</text>
<line x1="35.5" y1="357.0" x2="38.5" y2="357.0" stroke="#444" stroke-width="0.9"/>
<text x="34" y="397.0" font-size="6.0" fill="#111" text-anchor="end" font-weight="normal" font-style="normal" stroke="#111" stroke-width="0.3">0</text>
<line x1="35.5" y1="398.0" x2="38.5" y2="398.0" stroke="#444" stroke-width="0.9"/>
<text x="100.10000000000001" y="360.1" font-size="8.3" fill="#2434b4" text-anchor="start" font-weight="normal" font-style="normal" textLength="122.7" lengthAdjust="spacingAndGlyphs" stroke="#2434b4" stroke-width="0.1">Enriched GABP<tspan font-size="7.2">&#945;</tspan> binding (fold)</text>
<rect x="74" y="358.0" width="1" height="40" fill="#555" stroke="none" stroke-width="1"/>
<rect x="76" y="388.0" width="1" height="10" fill="#aaa" stroke="none" stroke-width="1"/>
<line x1="17.5" y1="401.5" x2="259" y2="401.5" stroke="#333" stroke-width="1"/>
<text x="23" y="410" font-size="6.6" fill="#111" text-anchor="start" font-weight="normal" font-style="normal" textLength="15" lengthAdjust="spacingAndGlyphs" stroke="#111" stroke-width="0.25">PTEN</text>
<line x1="76" y1="406.7" x2="217" y2="406.7" stroke="#8a8a8a" stroke-width="0.8"/>
<path d="M78.0 405.0 L79.7 406.7 L78.0 408.4" fill="none" stroke="#707070" stroke-width="0.8"/>
<path d="M82.3 405.0 L84.0 406.7 L82.3 408.4" fill="none" stroke="#707070" stroke-width="0.8"/>
<path d="M86.6 405.0 L88.3 406.7 L86.6 408.4" fill="none" stroke="#707070" stroke-width="0.8"/>
<path d="M90.9 405.0 L92.6 406.7 L90.9 408.4" fill="none" stroke="#707070" stroke-width="0.8"/>
<path d="M95.2 405.0 L96.9 406.7 L95.2 408.4" fill="none" stroke="#707070" stroke-width="0.8"/>
<path d="M99.5 405.0 L101.2 406.7 L99.5 408.4" fill="none" stroke="#707070" stroke-width="0.8"/>
<path d="M103.8 405.0 L105.5 406.7 L103.8 408.4" fill="none" stroke="#707070" stroke-width="0.8"/>
<path d="M108.1 405.0 L109.8 406.7 L108.1 408.4" fill="none" stroke="#707070" stroke-width="0.8"/>
<path d="M112.4 405.0 L114.1 406.7 L112.4 408.4" fill="none" stroke="#707070" stroke-width="0.8"/>
<path d="M116.7 405.0 L118.4 406.7 L116.7 408.4" fill="none" stroke="#707070" stroke-width="0.8"/>
<path d="M121.0 405.0 L122.7 406.7 L121.0 408.4" fill="none" stroke="#707070" stroke-width="0.8"/>
<path d="M125.3 405.0 L127.0 406.7 L125.3 408.4" fill="none" stroke="#707070" stroke-width="0.8"/>
<path d="M129.6 405.0 L131.3 406.7 L129.6 408.4" fill="none" stroke="#707070" stroke-width="0.8"/>
<path d="M133.9 405.0 L135.6 406.7 L133.9 408.4" fill="none" stroke="#707070" stroke-width="0.8"/>
<path d="M138.2 405.0 L139.9 406.7 L138.2 408.4" fill="none" stroke="#707070" stroke-width="0.8"/>
<path d="M142.5 405.0 L144.2 406.7 L142.5 408.4" fill="none" stroke="#707070" stroke-width="0.8"/>
<path d="M146.8 405.0 L148.5 406.7 L146.8 408.4" fill="none" stroke="#707070" stroke-width="0.8"/>
<path d="M151.1 405.0 L152.8 406.7 L151.1 408.4" fill="none" stroke="#707070" stroke-width="0.8"/>
<path d="M155.4 405.0 L157.1 406.7 L155.4 408.4" fill="none" stroke="#707070" stroke-width="0.8"/>
<path d="M159.7 405.0 L161.4 406.7 L159.7 408.4" fill="none" stroke="#707070" stroke-width="0.8"/>
<path d="M164.0 405.0 L165.7 406.7 L164.0 408.4" fill="none" stroke="#707070" stroke-width="0.8"/>
<path d="M168.3 405.0 L170.0 406.7 L168.3 408.4" fill="none" stroke="#707070" stroke-width="0.8"/>
<path d="M172.6 405.0 L174.3 406.7 L172.6 408.4" fill="none" stroke="#707070" stroke-width="0.8"/>
<path d="M176.9 405.0 L178.6 406.7 L176.9 408.4" fill="none" stroke="#707070" stroke-width="0.8"/>
<path d="M181.2 405.0 L182.9 406.7 L181.2 408.4" fill="none" stroke="#707070" stroke-width="0.8"/>
<path d="M185.5 405.0 L187.2 406.7 L185.5 408.4" fill="none" stroke="#707070" stroke-width="0.8"/>
<path d="M189.8 405.0 L191.5 406.7 L189.8 408.4" fill="none" stroke="#707070" stroke-width="0.8"/>
<path d="M194.1 405.0 L195.8 406.7 L194.1 408.4" fill="none" stroke="#707070" stroke-width="0.8"/>
<path d="M198.4 405.0 L200.1 406.7 L198.4 408.4" fill="none" stroke="#707070" stroke-width="0.8"/>
<path d="M202.7 405.0 L204.4 406.7 L202.7 408.4" fill="none" stroke="#707070" stroke-width="0.8"/>
<path d="M207.0 405.0 L208.7 406.7 L207.0 408.4" fill="none" stroke="#707070" stroke-width="0.8"/>
<path d="M211.3 405.0 L213.0 406.7 L211.3 408.4" fill="none" stroke="#707070" stroke-width="0.8"/>
<rect x="75.4" y="404.45" width="2" height="4.5" fill="#111" stroke="none" stroke-width="1"/>
<rect x="117.6" y="403.7" width="0.8" height="6" fill="#555" stroke="none" stroke-width="1"/>
<rect x="161.4" y="403.7" width="0.8" height="6" fill="#444" stroke="none" stroke-width="1"/>
<rect x="169.2" y="403.7" width="0.8" height="6" fill="#444" stroke="none" stroke-width="1"/>
<rect x="171.8" y="403.7" width="0.8" height="6" fill="#444" stroke="none" stroke-width="1"/>
<rect x="198.6" y="403.7" width="0.8" height="6" fill="#444" stroke="none" stroke-width="1"/>
<rect x="203.8" y="403.7" width="0.8" height="6" fill="#444" stroke="none" stroke-width="1"/>
<rect x="208.1" y="403.7" width="0.8" height="6" fill="#444" stroke="none" stroke-width="1"/>
<rect x="210.8" y="403.7" width="0.8" height="6" fill="#444" stroke="none" stroke-width="1"/>
<rect x="214.2" y="403.7" width="0.8" height="6" fill="#444" stroke="none" stroke-width="1"/>
<rect x="217" y="404.8" width="4.3" height="3.8" fill="#111" stroke="none" stroke-width="1"/>
<rect x="18.0" y="230.5" width="240.5" height="182" fill="none" stroke="#555" stroke-width="1"/>
<rect x="69.6" y="248" width="9.900000000000006" height="165" fill="none" stroke="#a8525a" stroke-width="1.15"/>
<text x="17.7" y="225.5" font-size="12.2" fill="#000" stroke="#000" stroke-width="0.12"><tspan font-style="italic">PTEN</tspan> (Pten)</text>
<rect x="275" y="230" width="242" height="183" fill="#fff" stroke="none" stroke-width="1"/>
<line x1="275.5" y1="247.5" x2="517" y2="247.5" stroke="#e2e2e2" stroke-width="1"/>
<line x1="298.5" y1="230" x2="298.5" y2="413" stroke="#dadada" stroke-width="1"/>
<text x="297.3" y="238" font-size="6.8" fill="#000" text-anchor="end" font-weight="normal" font-style="normal" textLength="14.3" lengthAdjust="spacingAndGlyphs" stroke="#000" stroke-width="0.3">Scale</text>
<text x="297.3" y="246.6" font-size="6.8" fill="#000" text-anchor="end" font-weight="normal" font-style="normal" textLength="16.1" lengthAdjust="spacingAndGlyphs" stroke="#000" stroke-width="0.3">chr21:</text>
<text x="367.0" y="237.9" font-size="6.4" fill="#000" text-anchor="end" font-weight="normal" font-style="normal" textLength="13.8" lengthAdjust="spacingAndGlyphs" stroke="#000" stroke-width="0.45">20 kb</text>
<line x1="368.5" y1="235.6" x2="446" y2="235.6" stroke="#666" stroke-width="0.8"/>
<line x1="368.5" y1="232.1" x2="368.5" y2="239.1" stroke="#666" stroke-width="0.8"/>
<line x1="446" y1="232.1" x2="446" y2="239.1" stroke="#666" stroke-width="0.8"/>
<text x="336.5" y="246.4" font-size="6.4" fill="#000" text-anchor="end" font-weight="normal" font-style="normal" textLength="24.5" lengthAdjust="spacingAndGlyphs" stroke="#000" stroke-width="0.45">26030000</text>
<line x1="337.6" y1="240.5" x2="337.6" y2="247.5" stroke="#888" stroke-width="0.8"/>
<text x="375.6" y="246.4" font-size="6.4" fill="#000" text-anchor="end" font-weight="normal" font-style="normal" textLength="25.6" lengthAdjust="spacingAndGlyphs" stroke="#000" stroke-width="0.45">26040000</text>
<line x1="376.5" y1="240.5" x2="376.5" y2="247.5" stroke="#888" stroke-width="0.8"/>
<text x="413.6" y="246.4" font-size="6.4" fill="#000" text-anchor="end" font-weight="normal" font-style="normal" textLength="24.6" lengthAdjust="spacingAndGlyphs" stroke="#000" stroke-width="0.45">26050000</text>
<line x1="415.4" y1="240.5" x2="415.4" y2="247.5" stroke="#888" stroke-width="0.8"/>
<text x="452.7" y="246.4" font-size="6.4" fill="#000" text-anchor="end" font-weight="normal" font-style="normal" textLength="25.0" lengthAdjust="spacingAndGlyphs" stroke="#000" stroke-width="0.45">26060000</text>
<line x1="454" y1="240.5" x2="454" y2="247.5" stroke="#888" stroke-width="0.8"/>
<text x="491" y="246.4" font-size="6.4" fill="#000" text-anchor="end" font-weight="normal" font-style="normal" textLength="25" lengthAdjust="spacingAndGlyphs" stroke="#000" stroke-width="0.45">26070000</text>
<line x1="492.5" y1="240.5" x2="492.5" y2="247.5" stroke="#888" stroke-width="0.8"/>
<text x="292.6" y="256" font-size="6.0" fill="#111" text-anchor="end" font-weight="normal" font-style="normal" stroke="#111" stroke-width="0.3">266</text>
<line x1="294.1" y1="256.5" x2="297.1" y2="256.5" stroke="#444" stroke-width="0.9"/>
<text x="292.6" y="297.5" font-size="6.0" fill="#111" text-anchor="end" font-weight="normal" font-style="normal" stroke="#111" stroke-width="0.3">1</text>
<line x1="294.1" y1="298.5" x2="297.1" y2="298.5" stroke="#444" stroke-width="0.9"/>
<line x1="299.5" y1="298.5" x2="516" y2="298.5" stroke="#e4e4e4" stroke-width="1"/>
<text x="367.2" y="259.9" font-size="8.3" fill="#2434b4" text-anchor="start" font-weight="normal" font-style="normal" textLength="116.8" lengthAdjust="spacingAndGlyphs" stroke="#2434b4" stroke-width="0.1">HPCs-anti-GABP<tspan font-size="7.2">&#945;</tspan> (all reads)</text>
<rect x="333" y="297.0" width="1" height="1.5" fill="#111" stroke="none" stroke-width="1"/>
<rect x="333" y="262.5" width="1" height="36" fill="#111" stroke="none" stroke-width="1"/>
<rect x="334" y="260.5" width="1" height="38" fill="#111" stroke="none" stroke-width="1"/>
<rect x="335" y="257.0" width="1" height="41.5" fill="#111" stroke="none" stroke-width="1"/>
<rect x="336" y="280.5" width="1" height="18" fill="#111" stroke="none" stroke-width="1"/>
<rect x="337" y="294.5" width="1" height="4" fill="#111" stroke="none" stroke-width="1"/>
<rect x="338" y="296.5" width="1" height="2" fill="#111" stroke="none" stroke-width="1"/>
<rect x="300" y="297.5" width="1" height="1" fill="#777" stroke="none" stroke-width="1"/>
<rect x="310" y="297.5" width="1" height="1" fill="#777" stroke="none" stroke-width="1"/>
<rect x="319" y="297.5" width="1" height="1" fill="#777" stroke="none" stroke-width="1"/>
<rect x="323" y="297.5" width="1" height="1" fill="#777" stroke="none" stroke-width="1"/>
<rect x="327" y="297.5" width="1" height="1" fill="#777" stroke="none" stroke-width="1"/>
<rect x="336" y="297.5" width="1" height="1" fill="#777" stroke="none" stroke-width="1"/>
<rect x="343" y="297.5" width="1" height="1" fill="#777" stroke="none" stroke-width="1"/>
<rect x="348" y="297.5" width="1" height="1" fill="#777" stroke="none" stroke-width="1"/>
<rect x="355" y="297.5" width="1" height="1" fill="#777" stroke="none" stroke-width="1"/>
<rect x="372" y="297.5" width="1" height="1" fill="#777" stroke="none" stroke-width="1"/>
<rect x="382" y="297.5" width="1" height="1" fill="#777" stroke="none" stroke-width="1"/>
<rect x="392" y="297.5" width="1" height="1" fill="#777" stroke="none" stroke-width="1"/>
<rect x="398" y="297.5" width="1" height="1" fill="#777" stroke="none" stroke-width="1"/>
<rect x="402" y="297.5" width="1" height="1" fill="#777" stroke="none" stroke-width="1"/>
<rect x="413" y="297.5" width="1" height="1" fill="#777" stroke="none" stroke-width="1"/>
<rect x="418" y="297.5" width="1" height="1" fill="#777" stroke="none" stroke-width="1"/>
<rect x="428" y="297.5" width="1" height="1" fill="#777" stroke="none" stroke-width="1"/>
<rect x="434" y="297.5" width="1" height="1" fill="#777" stroke="none" stroke-width="1"/>
<rect x="440" y="297.5" width="1" height="1" fill="#777" stroke="none" stroke-width="1"/>
<rect x="443" y="297.5" width="1" height="1" fill="#777" stroke="none" stroke-width="1"/>
<rect x="450" y="297.5" width="1" height="1" fill="#777" stroke="none" stroke-width="1"/>
<rect x="474" y="297.5" width="1" height="1" fill="#777" stroke="none" stroke-width="1"/>
<rect x="489" y="297.5" width="1" height="1" fill="#777" stroke="none" stroke-width="1"/>
<rect x="496" y="297.5" width="1" height="1" fill="#777" stroke="none" stroke-width="1"/>
<rect x="501" y="297.5" width="1" height="1" fill="#777" stroke="none" stroke-width="1"/>
<rect x="511" y="297.5" width="1" height="1" fill="#777" stroke="none" stroke-width="1"/>
<text x="292.6" y="306" font-size="6.0" fill="#111" text-anchor="end" font-weight="normal" font-style="normal" stroke="#111" stroke-width="0.3">266</text>
<line x1="294.1" y1="306.5" x2="297.1" y2="306.5" stroke="#444" stroke-width="0.9"/>
<text x="292.6" y="348.0" font-size="6.0" fill="#111" text-anchor="end" font-weight="normal" font-style="normal" stroke="#111" stroke-width="0.3">0</text>
<line x1="294.1" y1="349.0" x2="297.1" y2="349.0" stroke="#444" stroke-width="0.9"/>
<line x1="299.5" y1="349.0" x2="516" y2="349.0" stroke="#e4e4e4" stroke-width="1"/>
<text x="368.59999999999997" y="311" font-size="8.3" fill="#2434b4" text-anchor="start" font-weight="normal" font-style="normal" textLength="113.2" lengthAdjust="spacingAndGlyphs" stroke="#2434b4" stroke-width="0.1">HPCs-IgG control (all reads)</text>
<rect x="332" y="347.5" width="1" height="1.5" fill="#111" stroke="none" stroke-width="1"/>
<rect x="337" y="347.5" width="1" height="1.5" fill="#111" stroke="none" stroke-width="1"/>
<rect x="396" y="347.0" width="1" height="2" fill="#111" stroke="none" stroke-width="1"/>
<rect x="404" y="348.0" width="1" height="1" fill="#111" stroke="none" stroke-width="1"/>
<rect x="412" y="348.0" width="1" height="1" fill="#111" stroke="none" stroke-width="1"/>
<rect x="302" y="348.0" width="1" height="1" fill="#777" stroke="none" stroke-width="1"/>
<rect x="309" y="348.0" width="1" height="1" fill="#777" stroke="none" stroke-width="1"/>
<rect x="316" y="348.0" width="1" height="1" fill="#777" stroke="none" stroke-width="1"/>
<rect x="340" y="348.0" width="1" height="1" fill="#777" stroke="none" stroke-width="1"/>
<rect x="348" y="348.0" width="1" height="1" fill="#777" stroke="none" stroke-width="1"/>
<rect x="357" y="348.0" width="1" height="1" fill="#777" stroke="none" stroke-width="1"/>
<rect x="367" y="348.0" width="1" height="1" fill="#777" stroke="none" stroke-width="1"/>
<rect x="372" y="348.0" width="1" height="1" fill="#777" stroke="none" stroke-width="1"/>
<rect x="375" y="348.0" width="1" height="1" fill="#777" stroke="none" stroke-width="1"/>
<rect x="397" y="348.0" width="1" height="1" fill="#777" stroke="none" stroke-width="1"/>
<rect x="401" y="348.0" width="1" height="1" fill="#777" stroke="none" stroke-width="1"/>
<rect x="437" y="348.0" width="1" height="1" fill="#777" stroke="none" stroke-width="1"/>
<rect x="444" y="348.0" width="1" height="1" fill="#777" stroke="none" stroke-width="1"/>
<rect x="456" y="348.0" width="1" height="1" fill="#777" stroke="none" stroke-width="1"/>
<rect x="460" y="348.0" width="1" height="1" fill="#777" stroke="none" stroke-width="1"/>
<rect x="463" y="348.0" width="1" height="1" fill="#777" stroke="none" stroke-width="1"/>
<rect x="469" y="348.0" width="1" height="1" fill="#777" stroke="none" stroke-width="1"/>
<rect x="477" y="348.0" width="1" height="1" fill="#777" stroke="none" stroke-width="1"/>
<rect x="481" y="348.0" width="1" height="1" fill="#777" stroke="none" stroke-width="1"/>
<rect x="497" y="348.0" width="1" height="1" fill="#777" stroke="none" stroke-width="1"/>
<rect x="503" y="348.0" width="1" height="1" fill="#777" stroke="none" stroke-width="1"/>
<rect x="507" y="348.0" width="1" height="1" fill="#777" stroke="none" stroke-width="1"/>
<rect x="511" y="348.0" width="1" height="1" fill="#777" stroke="none" stroke-width="1"/>
<rect x="514" y="348.0" width="1" height="1" fill="#777" stroke="none" stroke-width="1"/>
<text x="292.6" y="356.5" font-size="6.0" fill="#111" text-anchor="end" font-weight="normal" font-style="normal" stroke="#111" stroke-width="0.3">90</text>
<line x1="294.1" y1="357.0" x2="297.1" y2="357.0" stroke="#444" stroke-width="0.9"/>
<text x="292.6" y="397.5" font-size="6.0" fill="#111" text-anchor="end" font-weight="normal" font-style="normal" stroke="#111" stroke-width="0.3">0</text>
<line x1="294.1" y1="398.5" x2="297.1" y2="398.5" stroke="#444" stroke-width="0.9"/>
<text x="363.7" y="360.4" font-size="8.3" fill="#2434b4" text-anchor="start" font-weight="normal" font-style="normal" textLength="122.2" lengthAdjust="spacingAndGlyphs" stroke="#2434b4" stroke-width="0.1">Enriched GABP<tspan font-size="7.2">&#945;</tspan> binding (fold)</text>
<rect x="334" y="358.0" width="1" height="40.5" fill="#c8c8c8" stroke="none" stroke-width="1"/>
<rect x="335" y="358.0" width="1" height="40.5" fill="#dedede" stroke="none" stroke-width="1"/>
<rect x="336" y="385.0" width="2" height="13.5" fill="#111" stroke="none" stroke-width="1"/>
<line x1="275" y1="401.5" x2="517" y2="401.5" stroke="#333" stroke-width="1"/>
<text x="277.8" y="410" font-size="6.6" fill="#111" text-anchor="start" font-weight="normal" font-style="normal" textLength="19.2" lengthAdjust="spacingAndGlyphs" stroke="#111" stroke-width="0.25">GABPA</text>
<line x1="335" y1="406.3" x2="466.5" y2="406.3" stroke="#8a8a8a" stroke-width="0.8"/>
<path d="M337.0 404.6 L338.7 406.3 L337.0 408.0" fill="none" stroke="#707070" stroke-width="0.8"/>
<path d="M341.3 404.6 L343.0 406.3 L341.3 408.0" fill="none" stroke="#707070" stroke-width="0.8"/>
<path d="M345.6 404.6 L347.3 406.3 L345.6 408.0" fill="none" stroke="#707070" stroke-width="0.8"/>
<path d="M349.9 404.6 L351.6 406.3 L349.9 408.0" fill="none" stroke="#707070" stroke-width="0.8"/>
<path d="M354.2 404.6 L355.9 406.3 L354.2 408.0" fill="none" stroke="#707070" stroke-width="0.8"/>
<path d="M358.5 404.6 L360.2 406.3 L358.5 408.0" fill="none" stroke="#707070" stroke-width="0.8"/>
<path d="M362.8 404.6 L364.5 406.3 L362.8 408.0" fill="none" stroke="#707070" stroke-width="0.8"/>
<path d="M367.1 404.6 L368.8 406.3 L367.1 408.0" fill="none" stroke="#707070" stroke-width="0.8"/>
<path d="M371.4 404.6 L373.1 406.3 L371.4 408.0" fill="none" stroke="#707070" stroke-width="0.8"/>
<path d="M375.7 404.6 L377.4 406.3 L375.7 408.0" fill="none" stroke="#707070" stroke-width="0.8"/>
<path d="M380.0 404.6 L381.7 406.3 L380.0 408.0" fill="none" stroke="#707070" stroke-width="0.8"/>
<path d="M384.3 404.6 L386.0 406.3 L384.3 408.0" fill="none" stroke="#707070" stroke-width="0.8"/>
<path d="M388.6 404.6 L390.3 406.3 L388.6 408.0" fill="none" stroke="#707070" stroke-width="0.8"/>
<path d="M392.9 404.6 L394.6 406.3 L392.9 408.0" fill="none" stroke="#707070" stroke-width="0.8"/>
<path d="M397.2 404.6 L398.9 406.3 L397.2 408.0" fill="none" stroke="#707070" stroke-width="0.8"/>
<path d="M401.5 404.6 L403.2 406.3 L401.5 408.0" fill="none" stroke="#707070" stroke-width="0.8"/>
<path d="M405.8 404.6 L407.5 406.3 L405.8 408.0" fill="none" stroke="#707070" stroke-width="0.8"/>
<path d="M410.1 404.6 L411.8 406.3 L410.1 408.0" fill="none" stroke="#707070" stroke-width="0.8"/>
<path d="M414.4 404.6 L416.1 406.3 L414.4 408.0" fill="none" stroke="#707070" stroke-width="0.8"/>
<path d="M418.7 404.6 L420.4 406.3 L418.7 408.0" fill="none" stroke="#707070" stroke-width="0.8"/>
<path d="M423.0 404.6 L424.7 406.3 L423.0 408.0" fill="none" stroke="#707070" stroke-width="0.8"/>
<path d="M427.3 404.6 L429.0 406.3 L427.3 408.0" fill="none" stroke="#707070" stroke-width="0.8"/>
<path d="M431.6 404.6 L433.3 406.3 L431.6 408.0" fill="none" stroke="#707070" stroke-width="0.8"/>
<path d="M435.9 404.6 L437.6 406.3 L435.9 408.0" fill="none" stroke="#707070" stroke-width="0.8"/>
<path d="M440.2 404.6 L441.9 406.3 L440.2 408.0" fill="none" stroke="#707070" stroke-width="0.8"/>
<path d="M444.5 404.6 L446.2 406.3 L444.5 408.0" fill="none" stroke="#707070" stroke-width="0.8"/>
<path d="M448.8 404.6 L450.5 406.3 L448.8 408.0" fill="none" stroke="#707070" stroke-width="0.8"/>
<path d="M453.1 404.6 L454.8 406.3 L453.1 408.0" fill="none" stroke="#707070" stroke-width="0.8"/>
<path d="M457.4 404.6 L459.1 406.3 L457.4 408.0" fill="none" stroke="#707070" stroke-width="0.8"/>
<path d="M461.7 404.6 L463.4 406.3 L461.7 408.0" fill="none" stroke="#707070" stroke-width="0.8"/>
<rect x="334.6" y="404.05" width="2.4" height="4.5" fill="#111" stroke="none" stroke-width="1"/>
<rect x="373.4" y="402.8" width="1" height="7" fill="#222" stroke="none" stroke-width="1"/>
<rect x="400.4" y="402.8" width="1" height="7" fill="#222" stroke="none" stroke-width="1"/>
<rect x="423.4" y="402.8" width="1" height="7" fill="#222" stroke="none" stroke-width="1"/>
<rect x="440.6" y="403.3" width="0.8" height="6" fill="#555" stroke="none" stroke-width="1"/>
<rect x="447.6" y="402.8" width="0.8" height="7" fill="#333" stroke="none" stroke-width="1"/>
<rect x="449.2" y="402.8" width="0.8" height="7" fill="#333" stroke="none" stroke-width="1"/>
<rect x="466.4" y="402.3" width="1" height="8" fill="#111" stroke="none" stroke-width="1"/>
<rect x="466.6" y="404.6" width="13" height="3.4" fill="#111" stroke="none" stroke-width="1"/>
<rect x="275.5" y="230.5" width="241" height="182" fill="none" stroke="#555" stroke-width="1"/>
<rect x="331" y="247.5" width="9.899999999999977" height="165.5" fill="none" stroke="#c84848" stroke-width="1.15"/>
<text x="275.5" y="225.3" font-size="12.2" fill="#000" stroke="#000" stroke-width="0.12"><tspan font-style="italic">GABPA</tspan> (GABP<tspan font-style="italic">&#945;</tspan>)</text>
<text x="1.3" y="437.0" font-size="13.0" fill="#111" text-anchor="start" font-weight="bold" font-style="normal" stroke="#111" stroke-width="0.4">B</text>
<text x="256.2" y="437.0" font-size="13.8" fill="#111" text-anchor="start" font-weight="bold" font-style="normal" textLength="8.8" lengthAdjust="spacingAndGlyphs" stroke="#111" stroke-width="0.4">C</text>
<path d="M100.2 519.4 L100.20 465.10 A54.3 54.3 0 0 1 146.59 547.63 Z" fill="#d42e0a" stroke="#1a1a1a" stroke-width="0.7" stroke-linejoin="round"/>
<path d="M100.2 519.4 L146.59 547.63 A54.3 54.3 0 0 1 86.37 571.91 Z" fill="#f7ef33" stroke="#1a1a1a" stroke-width="0.7" stroke-linejoin="round"/>
<path d="M100.2 519.4 L86.37 571.91 A54.3 54.3 0 0 1 71.97 565.79 Z" fill="#86d2de" stroke="#1a1a1a" stroke-width="0.7" stroke-linejoin="round"/>
<path d="M100.2 519.4 L71.97 565.79 A54.3 54.3 0 0 1 46.01 515.99 Z" fill="#62b733" stroke="#1a1a1a" stroke-width="0.7" stroke-linejoin="round"/>
<path d="M100.2 519.4 L46.01 515.99 A54.3 54.3 0 0 1 46.29 512.93 Z" fill="#000000" stroke="#1a1a1a" stroke-width="0.7" stroke-linejoin="round"/>
<path d="M100.2 519.4 L46.29 512.93 A54.3 54.3 0 0 1 100.20 465.10 Z" fill="#ffffff" stroke="#1a1a1a" stroke-width="0.7" stroke-linejoin="round"/>
<text x="32.3" y="476.6" font-size="10.0" fill="#111" text-anchor="start" font-weight="normal" font-style="normal" textLength="27.4" lengthAdjust="spacingAndGlyphs" stroke="#111" stroke-width="0.3">23.0%</text>
<text x="151.3" y="492.5" font-size="10.0" fill="#111" text-anchor="start" font-weight="normal" font-style="normal" textLength="27.3" lengthAdjust="spacingAndGlyphs" stroke="#111" stroke-width="0.3">33.7%</text>
<text x="17.8" y="518.8" font-size="10.0" fill="#111" text-anchor="start" font-weight="normal" font-style="normal" textLength="22.3" lengthAdjust="spacingAndGlyphs" stroke="#111" stroke-width="0.3">0.9%</text>
<text x="18.8" y="551.1" font-size="10.0" fill="#111" text-anchor="start" font-weight="normal" font-style="normal" textLength="27.6" lengthAdjust="spacingAndGlyphs" stroke="#111" stroke-width="0.3">17.3%</text>
<text x="60.8" y="582.9" font-size="10.0" fill="#111" text-anchor="start" font-weight="normal" font-style="normal" textLength="22.9" lengthAdjust="spacingAndGlyphs" stroke="#111" stroke-width="0.3">4.6%</text>
<text x="116.8" y="582.9" font-size="10.0" fill="#111" text-anchor="start" font-weight="normal" font-style="normal" textLength="28.1" lengthAdjust="spacingAndGlyphs" stroke="#111" stroke-width="0.3">20.4%</text>
<rect x="189.3" y="471.9" width="9.7" height="9.6" fill="#d42e0a" stroke="#5a1a08" stroke-width="1"/>
<text x="203.4" y="475.6" font-size="7.9" fill="#1a1a1a" text-anchor="start" font-weight="normal" font-style="normal" textLength="48.4" lengthAdjust="spacingAndGlyphs" stroke="#1a1a1a" stroke-width="0.2">2 kb upstream</text>
<text x="203.4" y="484.1" font-size="7.9" fill="#1a1a1a" text-anchor="start" font-weight="normal" font-style="normal" textLength="20.3" lengthAdjust="spacingAndGlyphs" stroke="#1a1a1a" stroke-width="0.2">of TIS</text>
<rect x="189.3" y="489.9" width="9.7" height="9.6" fill="#f7ef33" stroke="#6a6620" stroke-width="1"/>
<text x="203.4" y="497.4" font-size="7.9" fill="#1a1a1a" text-anchor="start" font-weight="normal" font-style="normal" textLength="23.1" lengthAdjust="spacingAndGlyphs" stroke="#1a1a1a" stroke-width="0.2">5&#8217; UTR</text>
<rect x="189.3" y="507.1" width="9.7" height="9.6" fill="#86d2de" stroke="#2c5a66" stroke-width="1"/>
<text x="203.4" y="514.2" font-size="7.9" fill="#1a1a1a" text-anchor="start" font-weight="normal" font-style="normal" textLength="20.9" lengthAdjust="spacingAndGlyphs" stroke="#1a1a1a" stroke-width="0.2">Exons</text>
<rect x="189.3" y="523.5" width="9.7" height="9.6" fill="#62b733" stroke="#234a14" stroke-width="1"/>
<text x="203.4" y="530.3" font-size="7.9" fill="#1a1a1a" text-anchor="start" font-weight="normal" font-style="normal" textLength="22.8" lengthAdjust="spacingAndGlyphs" stroke="#1a1a1a" stroke-width="0.2">Introns</text>
<rect x="189.3" y="539.9" width="9.7" height="9.6" fill="#000000" stroke="#000000" stroke-width="1"/>
<text x="203.4" y="546.7" font-size="7.9" fill="#1a1a1a" text-anchor="start" font-weight="normal" font-style="normal" textLength="23.1" lengthAdjust="spacingAndGlyphs" stroke="#1a1a1a" stroke-width="0.2">3&#8217; UTR</text>
<rect x="189.3" y="556.3" width="9.7" height="9.6" fill="#ffffff" stroke="#555555" stroke-width="1"/>
<text x="203.4" y="562.7" font-size="7.9" fill="#1a1a1a" text-anchor="start" font-weight="normal" font-style="normal" textLength="33.7" lengthAdjust="spacingAndGlyphs" stroke="#1a1a1a" stroke-width="0.2">Intergenic</text>
<rect x="316.9" y="451.2" width="190.90000000000003" height="5.0" fill="#ffffff" stroke="#777" stroke-width="0.8"/>
<rect x="316.9" y="451.2" width="145.40000000000003" height="5.0" fill="#e07a3c" stroke="#8a4a22" stroke-width="0.8"/>
<rect x="316.9" y="463.27" width="190.90000000000003" height="5.0" fill="#ffffff" stroke="#777" stroke-width="0.8"/>
<rect x="316.9" y="463.27" width="133.10000000000002" height="5.0" fill="#e07a3c" stroke="#8a4a22" stroke-width="0.8"/>
<rect x="316.9" y="475.34" width="190.90000000000003" height="5.0" fill="#ffffff" stroke="#777" stroke-width="0.8"/>
<rect x="316.9" y="475.34" width="124.80000000000001" height="5.0" fill="#e07a3c" stroke="#8a4a22" stroke-width="0.8"/>
<rect x="316.9" y="487.40999999999997" width="190.90000000000003" height="5.0" fill="#ffffff" stroke="#777" stroke-width="0.8"/>
<rect x="316.9" y="487.40999999999997" width="107.60000000000002" height="5.0" fill="#e07a3c" stroke="#8a4a22" stroke-width="0.8"/>
<rect x="316.9" y="499.48" width="190.90000000000003" height="5.0" fill="#ffffff" stroke="#777" stroke-width="0.8"/>
<rect x="316.9" y="499.48" width="72.5" height="5.0" fill="#e07a3c" stroke="#8a4a22" stroke-width="0.8"/>
<rect x="316.9" y="511.55" width="190.90000000000003" height="5.0" fill="#ffffff" stroke="#777" stroke-width="0.8"/>
<rect x="316.9" y="511.55" width="52.5" height="5.0" fill="#e07a3c" stroke="#8a4a22" stroke-width="0.8"/>
<rect x="316.9" y="523.62" width="190.90000000000003" height="5.0" fill="#ffffff" stroke="#777" stroke-width="0.8"/>
<rect x="316.9" y="523.62" width="37.700000000000045" height="5.0" fill="#e07a3c" stroke="#8a4a22" stroke-width="0.8"/>
<rect x="316.9" y="535.69" width="190.90000000000003" height="5.0" fill="#ffffff" stroke="#777" stroke-width="0.8"/>
<rect x="316.9" y="535.69" width="26.30000000000001" height="5.0" fill="#e07a3c" stroke="#8a4a22" stroke-width="0.8"/>
<rect x="316.9" y="547.76" width="190.90000000000003" height="5.0" fill="#ffffff" stroke="#777" stroke-width="0.8"/>
<rect x="316.9" y="547.76" width="24.5" height="5.0" fill="#e07a3c" stroke="#8a4a22" stroke-width="0.8"/>
<rect x="316.9" y="559.8299999999999" width="190.90000000000003" height="5.0" fill="#ffffff" stroke="#777" stroke-width="0.8"/>
<rect x="316.9" y="559.8299999999999" width="21.400000000000034" height="5.0" fill="#e07a3c" stroke="#8a4a22" stroke-width="0.8"/>
<line x1="316.4" y1="447.5" x2="316.4" y2="568.5" stroke="#444" stroke-width="0.9"/>
<line x1="314.6" y1="447.2" x2="316.4" y2="447.2" stroke="#2a6a7a" stroke-width="0.9"/>
<line x1="314.6" y1="459.27" x2="316.4" y2="459.27" stroke="#2a6a7a" stroke-width="0.9"/>
<line x1="314.6" y1="471.34" x2="316.4" y2="471.34" stroke="#2a6a7a" stroke-width="0.9"/>
<line x1="314.6" y1="483.40999999999997" x2="316.4" y2="483.40999999999997" stroke="#2a6a7a" stroke-width="0.9"/>
<line x1="314.6" y1="495.48" x2="316.4" y2="495.48" stroke="#2a6a7a" stroke-width="0.9"/>
<line x1="314.6" y1="507.55" x2="316.4" y2="507.55" stroke="#2a6a7a" stroke-width="0.9"/>
<line x1="314.6" y1="519.62" x2="316.4" y2="519.62" stroke="#2a6a7a" stroke-width="0.9"/>
<line x1="314.6" y1="531.69" x2="316.4" y2="531.69" stroke="#2a6a7a" stroke-width="0.9"/>
<line x1="314.6" y1="543.76" x2="316.4" y2="543.76" stroke="#2a6a7a" stroke-width="0.9"/>
<line x1="314.6" y1="555.8299999999999" x2="316.4" y2="555.8299999999999" stroke="#2a6a7a" stroke-width="0.9"/>
<line x1="314.6" y1="567.9" x2="316.4" y2="567.9" stroke="#2a6a7a" stroke-width="0.9"/>
<line x1="316.4" y1="568.3" x2="508.2" y2="568.3" stroke="#444" stroke-width="0.9"/>
<line x1="316.9" y1="568.3" x2="316.9" y2="570.5" stroke="#444" stroke-width="0.8"/>
<text x="316.9" y="582.8" font-size="7.3" fill="#222" text-anchor="middle" font-weight="normal" font-style="normal" textLength="9.7" lengthAdjust="spacingAndGlyphs" stroke="#222" stroke-width="0.18">0%</text>
<line x1="355.08" y1="568.3" x2="355.08" y2="570.5" stroke="#444" stroke-width="0.8"/>
<text x="355.08" y="582.8" font-size="7.3" fill="#222" text-anchor="middle" font-weight="normal" font-style="normal" textLength="15.5" lengthAdjust="spacingAndGlyphs" stroke="#222" stroke-width="0.18">20%</text>
<line x1="393.26" y1="568.3" x2="393.26" y2="570.5" stroke="#444" stroke-width="0.8"/>
<text x="393.26" y="582.8" font-size="7.3" fill="#222" text-anchor="middle" font-weight="normal" font-style="normal" textLength="15.5" lengthAdjust="spacingAndGlyphs" stroke="#222" stroke-width="0.18">40%</text>
<line x1="431.43999999999994" y1="568.3" x2="431.43999999999994" y2="570.5" stroke="#444" stroke-width="0.8"/>
<text x="431.43999999999994" y="582.8" font-size="7.3" fill="#222" text-anchor="middle" font-weight="normal" font-style="normal" textLength="15.5" lengthAdjust="spacingAndGlyphs" stroke="#222" stroke-width="0.18">60%</text>
<line x1="469.62" y1="568.3" x2="469.62" y2="570.5" stroke="#444" stroke-width="0.8"/>
<text x="469.62" y="582.8" font-size="7.3" fill="#222" text-anchor="middle" font-weight="normal" font-style="normal" textLength="15.5" lengthAdjust="spacingAndGlyphs" stroke="#222" stroke-width="0.18">80%</text>
<line x1="507.79999999999995" y1="568.3" x2="507.79999999999995" y2="570.5" stroke="#444" stroke-width="0.8"/>
<text x="507.79999999999995" y="582.8" font-size="7.3" fill="#222" text-anchor="middle" font-weight="normal" font-style="normal" textLength="21" lengthAdjust="spacingAndGlyphs" stroke="#222" stroke-width="0.18">100%</text>
<text x="336" y="595.8" font-size="10.5" fill="#1a1a1a" text-anchor="start" font-weight="normal" font-style="normal" textLength="157.7" lengthAdjust="spacingAndGlyphs" stroke="#1a1a1a" stroke-width="0.2">Percentage of GABP-bound genes</text>
<path d="M293.7 451.9 L309.6 451.9 L309.3 567.3 Z" fill="#2435ee"/>
<text transform="translate(277.6 509.1) rotate(-90)" font-size="10.4" fill="#1a1a1a" stroke="#1a1a1a" stroke-width="0.2" text-anchor="middle" textLength="117" lengthAdjust="spacingAndGlyphs">Relative gene expression</text>
<text transform="translate(291.5 509.9) rotate(-90)" font-size="10.4" fill="#1a1a1a" stroke="#1a1a1a" stroke-width="0.2" text-anchor="middle" textLength="72.2" lengthAdjust="spacingAndGlyphs">in human HPCs</text>
<rect x="335.2" y="436.4" width="9.8" height="9.3" fill="#e8321a" stroke="#5a1a08" stroke-width="1"/>
<text x="351.7" y="443.7" font-size="9.2" fill="#1a1a1a" text-anchor="start" font-weight="normal" font-style="normal" textLength="53.9" lengthAdjust="spacingAndGlyphs" stroke="#1a1a1a" stroke-width="0.18">GABP-bound</text>
<rect x="422.8" y="436.4" width="9.6" height="9.3" fill="#fff" stroke="#555" stroke-width="1"/>
<text x="437.6" y="443.7" font-size="9.2" fill="#1a1a1a" text-anchor="start" font-weight="normal" font-style="normal" textLength="44.8" lengthAdjust="spacingAndGlyphs" stroke="#1a1a1a" stroke-width="0.18">GABP-free</text>
</g>
</svg></body></html>
